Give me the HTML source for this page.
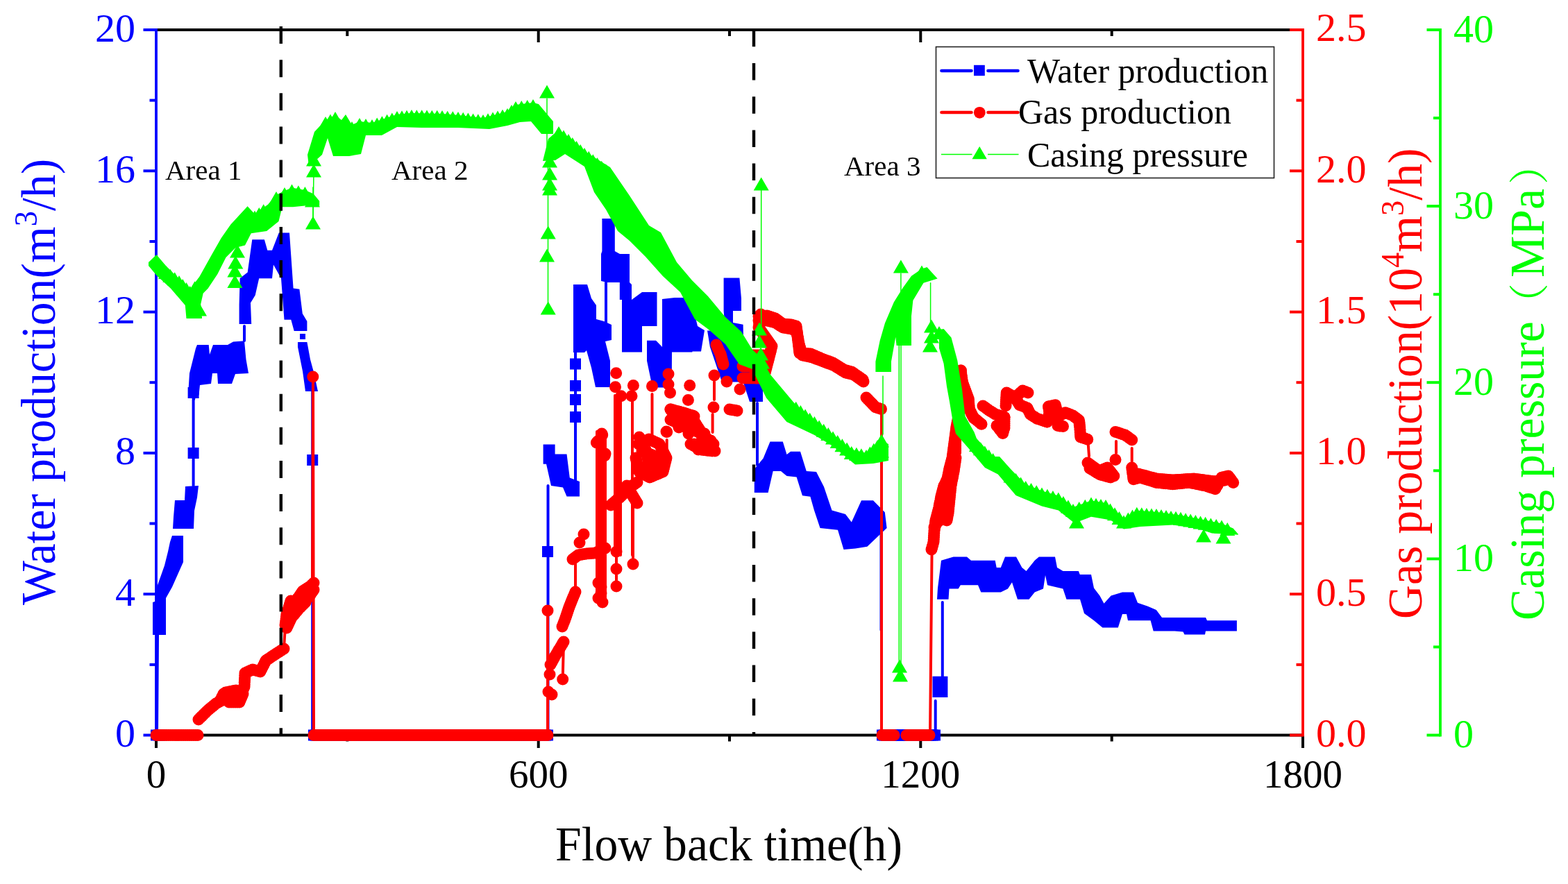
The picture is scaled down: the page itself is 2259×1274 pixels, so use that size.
<!DOCTYPE html><html><head><meta charset="utf-8"><title>Flow back chart</title><style>html,body{margin:0;padding:0;background:#fff;}svg{display:block;}</style></head><body>
<svg width="2259" height="1274" viewBox="0 0 2259 1274">
<rect width="2259" height="1274" fill="#fff"/>
<line x1="225.0" y1="43.0" x2="1877.0" y2="43.0" stroke="#000" stroke-width="4"/>
<line x1="225.0" y1="1059.5" x2="1877.0" y2="1059.5" stroke="#000" stroke-width="4"/>
<line x1="225.0" y1="1059.5" x2="225.0" y2="1078.0" stroke="#000" stroke-width="4"/>
<line x1="500.3" y1="1059.5" x2="500.3" y2="1068.5" stroke="#000" stroke-width="4"/>
<line x1="500.3" y1="43.0" x2="500.3" y2="52.0" stroke="#000" stroke-width="4"/>
<line x1="775.7" y1="1059.5" x2="775.7" y2="1078.0" stroke="#000" stroke-width="4"/>
<line x1="775.7" y1="43.0" x2="775.7" y2="61.0" stroke="#000" stroke-width="4"/>
<line x1="1051.0" y1="1059.5" x2="1051.0" y2="1068.5" stroke="#000" stroke-width="4"/>
<line x1="1051.0" y1="43.0" x2="1051.0" y2="52.0" stroke="#000" stroke-width="4"/>
<line x1="1326.3" y1="1059.5" x2="1326.3" y2="1078.0" stroke="#000" stroke-width="4"/>
<line x1="1326.3" y1="43.0" x2="1326.3" y2="61.0" stroke="#000" stroke-width="4"/>
<line x1="1601.7" y1="1059.5" x2="1601.7" y2="1068.5" stroke="#000" stroke-width="4"/>
<line x1="1601.7" y1="43.0" x2="1601.7" y2="52.0" stroke="#000" stroke-width="4"/>
<line x1="1877.0" y1="1059.5" x2="1877.0" y2="1078.0" stroke="#000" stroke-width="4"/>
<line x1="225.0" y1="41.0" x2="225.0" y2="1061.5" stroke="#0000ff" stroke-width="3.8"/>
<line x1="206.5" y1="1059.5" x2="225.0" y2="1059.5" stroke="#0000ff" stroke-width="4"/>
<line x1="215.5" y1="957.9" x2="225.0" y2="957.9" stroke="#0000ff" stroke-width="4"/>
<line x1="206.5" y1="856.2" x2="225.0" y2="856.2" stroke="#0000ff" stroke-width="4"/>
<line x1="215.5" y1="754.5" x2="225.0" y2="754.5" stroke="#0000ff" stroke-width="4"/>
<line x1="206.5" y1="652.9" x2="225.0" y2="652.9" stroke="#0000ff" stroke-width="4"/>
<line x1="215.5" y1="551.2" x2="225.0" y2="551.2" stroke="#0000ff" stroke-width="4"/>
<line x1="206.5" y1="449.6" x2="225.0" y2="449.6" stroke="#0000ff" stroke-width="4"/>
<line x1="215.5" y1="348.0" x2="225.0" y2="348.0" stroke="#0000ff" stroke-width="4"/>
<line x1="206.5" y1="246.3" x2="225.0" y2="246.3" stroke="#0000ff" stroke-width="4"/>
<line x1="215.5" y1="144.6" x2="225.0" y2="144.6" stroke="#0000ff" stroke-width="4"/>
<line x1="206.5" y1="43.0" x2="225.0" y2="43.0" stroke="#0000ff" stroke-width="4"/>
<line x1="1877.0" y1="41.0" x2="1877.0" y2="1061.5" stroke="#ff0000" stroke-width="3.8"/>
<line x1="1858.0" y1="1059.5" x2="1877.0" y2="1059.5" stroke="#ff0000" stroke-width="4"/>
<line x1="1867.5" y1="957.9" x2="1877.0" y2="957.9" stroke="#ff0000" stroke-width="4"/>
<line x1="1858.0" y1="856.2" x2="1877.0" y2="856.2" stroke="#ff0000" stroke-width="4"/>
<line x1="1867.5" y1="754.5" x2="1877.0" y2="754.5" stroke="#ff0000" stroke-width="4"/>
<line x1="1858.0" y1="652.9" x2="1877.0" y2="652.9" stroke="#ff0000" stroke-width="4"/>
<line x1="1867.5" y1="551.2" x2="1877.0" y2="551.2" stroke="#ff0000" stroke-width="4"/>
<line x1="1858.0" y1="449.6" x2="1877.0" y2="449.6" stroke="#ff0000" stroke-width="4"/>
<line x1="1867.5" y1="348.0" x2="1877.0" y2="348.0" stroke="#ff0000" stroke-width="4"/>
<line x1="1858.0" y1="246.3" x2="1877.0" y2="246.3" stroke="#ff0000" stroke-width="4"/>
<line x1="1867.5" y1="144.6" x2="1877.0" y2="144.6" stroke="#ff0000" stroke-width="4"/>
<line x1="1858.0" y1="43.0" x2="1877.0" y2="43.0" stroke="#ff0000" stroke-width="4"/>
<line x1="2075.0" y1="41.0" x2="2075.0" y2="1061.5" stroke="#00ff00" stroke-width="3.8"/>
<line x1="2055.5" y1="1059.5" x2="2075.0" y2="1059.5" stroke="#00ff00" stroke-width="4"/>
<line x1="2065.0" y1="932.4" x2="2075.0" y2="932.4" stroke="#00ff00" stroke-width="4"/>
<line x1="2055.5" y1="805.4" x2="2075.0" y2="805.4" stroke="#00ff00" stroke-width="4"/>
<line x1="2065.0" y1="678.3" x2="2075.0" y2="678.3" stroke="#00ff00" stroke-width="4"/>
<line x1="2055.5" y1="551.2" x2="2075.0" y2="551.2" stroke="#00ff00" stroke-width="4"/>
<line x1="2065.0" y1="424.2" x2="2075.0" y2="424.2" stroke="#00ff00" stroke-width="4"/>
<line x1="2055.5" y1="297.1" x2="2075.0" y2="297.1" stroke="#00ff00" stroke-width="4"/>
<line x1="2065.0" y1="170.1" x2="2075.0" y2="170.1" stroke="#00ff00" stroke-width="4"/>
<line x1="2055.5" y1="43.0" x2="2075.0" y2="43.0" stroke="#00ff00" stroke-width="4"/>
<rect x="217.0" y="1051.5" width="16" height="16" fill="#0000ff"/>
<rect x="221.0" y="1051.5" width="16" height="16" fill="#0000ff"/>
<rect x="225.0" y="1051.5" width="16" height="16" fill="#0000ff"/>
<rect x="444.0" y="1051.5" width="16" height="16" fill="#0000ff"/>
<rect x="447.0" y="1051.5" width="16" height="16" fill="#0000ff"/>
<rect x="450.0" y="1051.5" width="16" height="16" fill="#0000ff"/>
<rect x="453.0" y="1051.5" width="16" height="16" fill="#0000ff"/>
<rect x="456.0" y="1051.5" width="16" height="16" fill="#0000ff"/>
<rect x="459.0" y="1051.5" width="16" height="16" fill="#0000ff"/>
<rect x="462.1" y="1051.5" width="16" height="16" fill="#0000ff"/>
<rect x="465.1" y="1051.5" width="16" height="16" fill="#0000ff"/>
<rect x="468.1" y="1051.5" width="16" height="16" fill="#0000ff"/>
<rect x="471.1" y="1051.5" width="16" height="16" fill="#0000ff"/>
<rect x="474.1" y="1051.5" width="16" height="16" fill="#0000ff"/>
<rect x="477.1" y="1051.5" width="16" height="16" fill="#0000ff"/>
<rect x="480.1" y="1051.5" width="16" height="16" fill="#0000ff"/>
<rect x="483.1" y="1051.5" width="16" height="16" fill="#0000ff"/>
<rect x="486.1" y="1051.5" width="16" height="16" fill="#0000ff"/>
<rect x="489.1" y="1051.5" width="16" height="16" fill="#0000ff"/>
<rect x="492.1" y="1051.5" width="16" height="16" fill="#0000ff"/>
<rect x="495.2" y="1051.5" width="16" height="16" fill="#0000ff"/>
<rect x="498.2" y="1051.5" width="16" height="16" fill="#0000ff"/>
<rect x="501.2" y="1051.5" width="16" height="16" fill="#0000ff"/>
<rect x="504.2" y="1051.5" width="16" height="16" fill="#0000ff"/>
<rect x="507.2" y="1051.5" width="16" height="16" fill="#0000ff"/>
<rect x="510.2" y="1051.5" width="16" height="16" fill="#0000ff"/>
<rect x="513.2" y="1051.5" width="16" height="16" fill="#0000ff"/>
<rect x="516.2" y="1051.5" width="16" height="16" fill="#0000ff"/>
<rect x="519.2" y="1051.5" width="16" height="16" fill="#0000ff"/>
<rect x="522.2" y="1051.5" width="16" height="16" fill="#0000ff"/>
<rect x="525.2" y="1051.5" width="16" height="16" fill="#0000ff"/>
<rect x="528.2" y="1051.5" width="16" height="16" fill="#0000ff"/>
<rect x="531.3" y="1051.5" width="16" height="16" fill="#0000ff"/>
<rect x="534.3" y="1051.5" width="16" height="16" fill="#0000ff"/>
<rect x="537.3" y="1051.5" width="16" height="16" fill="#0000ff"/>
<rect x="540.3" y="1051.5" width="16" height="16" fill="#0000ff"/>
<rect x="543.3" y="1051.5" width="16" height="16" fill="#0000ff"/>
<rect x="546.3" y="1051.5" width="16" height="16" fill="#0000ff"/>
<rect x="549.3" y="1051.5" width="16" height="16" fill="#0000ff"/>
<rect x="552.3" y="1051.5" width="16" height="16" fill="#0000ff"/>
<rect x="555.3" y="1051.5" width="16" height="16" fill="#0000ff"/>
<rect x="558.3" y="1051.5" width="16" height="16" fill="#0000ff"/>
<rect x="561.3" y="1051.5" width="16" height="16" fill="#0000ff"/>
<rect x="564.4" y="1051.5" width="16" height="16" fill="#0000ff"/>
<rect x="567.4" y="1051.5" width="16" height="16" fill="#0000ff"/>
<rect x="570.4" y="1051.5" width="16" height="16" fill="#0000ff"/>
<rect x="573.4" y="1051.5" width="16" height="16" fill="#0000ff"/>
<rect x="576.4" y="1051.5" width="16" height="16" fill="#0000ff"/>
<rect x="579.4" y="1051.5" width="16" height="16" fill="#0000ff"/>
<rect x="582.4" y="1051.5" width="16" height="16" fill="#0000ff"/>
<rect x="585.4" y="1051.5" width="16" height="16" fill="#0000ff"/>
<rect x="588.4" y="1051.5" width="16" height="16" fill="#0000ff"/>
<rect x="591.4" y="1051.5" width="16" height="16" fill="#0000ff"/>
<rect x="594.4" y="1051.5" width="16" height="16" fill="#0000ff"/>
<rect x="597.5" y="1051.5" width="16" height="16" fill="#0000ff"/>
<rect x="600.5" y="1051.5" width="16" height="16" fill="#0000ff"/>
<rect x="603.5" y="1051.5" width="16" height="16" fill="#0000ff"/>
<rect x="606.5" y="1051.5" width="16" height="16" fill="#0000ff"/>
<rect x="609.5" y="1051.5" width="16" height="16" fill="#0000ff"/>
<rect x="612.5" y="1051.5" width="16" height="16" fill="#0000ff"/>
<rect x="615.5" y="1051.5" width="16" height="16" fill="#0000ff"/>
<rect x="618.5" y="1051.5" width="16" height="16" fill="#0000ff"/>
<rect x="621.5" y="1051.5" width="16" height="16" fill="#0000ff"/>
<rect x="624.5" y="1051.5" width="16" height="16" fill="#0000ff"/>
<rect x="627.5" y="1051.5" width="16" height="16" fill="#0000ff"/>
<rect x="630.6" y="1051.5" width="16" height="16" fill="#0000ff"/>
<rect x="633.6" y="1051.5" width="16" height="16" fill="#0000ff"/>
<rect x="636.6" y="1051.5" width="16" height="16" fill="#0000ff"/>
<rect x="639.6" y="1051.5" width="16" height="16" fill="#0000ff"/>
<rect x="642.6" y="1051.5" width="16" height="16" fill="#0000ff"/>
<rect x="645.6" y="1051.5" width="16" height="16" fill="#0000ff"/>
<rect x="648.6" y="1051.5" width="16" height="16" fill="#0000ff"/>
<rect x="651.6" y="1051.5" width="16" height="16" fill="#0000ff"/>
<rect x="654.6" y="1051.5" width="16" height="16" fill="#0000ff"/>
<rect x="657.6" y="1051.5" width="16" height="16" fill="#0000ff"/>
<rect x="660.6" y="1051.5" width="16" height="16" fill="#0000ff"/>
<rect x="663.7" y="1051.5" width="16" height="16" fill="#0000ff"/>
<rect x="666.7" y="1051.5" width="16" height="16" fill="#0000ff"/>
<rect x="669.7" y="1051.5" width="16" height="16" fill="#0000ff"/>
<rect x="672.7" y="1051.5" width="16" height="16" fill="#0000ff"/>
<rect x="675.7" y="1051.5" width="16" height="16" fill="#0000ff"/>
<rect x="678.7" y="1051.5" width="16" height="16" fill="#0000ff"/>
<rect x="681.7" y="1051.5" width="16" height="16" fill="#0000ff"/>
<rect x="684.7" y="1051.5" width="16" height="16" fill="#0000ff"/>
<rect x="687.7" y="1051.5" width="16" height="16" fill="#0000ff"/>
<rect x="690.7" y="1051.5" width="16" height="16" fill="#0000ff"/>
<rect x="693.7" y="1051.5" width="16" height="16" fill="#0000ff"/>
<rect x="696.8" y="1051.5" width="16" height="16" fill="#0000ff"/>
<rect x="699.8" y="1051.5" width="16" height="16" fill="#0000ff"/>
<rect x="702.8" y="1051.5" width="16" height="16" fill="#0000ff"/>
<rect x="705.8" y="1051.5" width="16" height="16" fill="#0000ff"/>
<rect x="708.8" y="1051.5" width="16" height="16" fill="#0000ff"/>
<rect x="711.8" y="1051.5" width="16" height="16" fill="#0000ff"/>
<rect x="714.8" y="1051.5" width="16" height="16" fill="#0000ff"/>
<rect x="717.8" y="1051.5" width="16" height="16" fill="#0000ff"/>
<rect x="720.8" y="1051.5" width="16" height="16" fill="#0000ff"/>
<rect x="723.8" y="1051.5" width="16" height="16" fill="#0000ff"/>
<rect x="726.8" y="1051.5" width="16" height="16" fill="#0000ff"/>
<rect x="729.8" y="1051.5" width="16" height="16" fill="#0000ff"/>
<rect x="732.9" y="1051.5" width="16" height="16" fill="#0000ff"/>
<rect x="735.9" y="1051.5" width="16" height="16" fill="#0000ff"/>
<rect x="738.9" y="1051.5" width="16" height="16" fill="#0000ff"/>
<rect x="741.9" y="1051.5" width="16" height="16" fill="#0000ff"/>
<rect x="744.9" y="1051.5" width="16" height="16" fill="#0000ff"/>
<rect x="747.9" y="1051.5" width="16" height="16" fill="#0000ff"/>
<rect x="750.9" y="1051.5" width="16" height="16" fill="#0000ff"/>
<rect x="753.9" y="1051.5" width="16" height="16" fill="#0000ff"/>
<rect x="756.9" y="1051.5" width="16" height="16" fill="#0000ff"/>
<rect x="759.9" y="1051.5" width="16" height="16" fill="#0000ff"/>
<rect x="762.9" y="1051.5" width="16" height="16" fill="#0000ff"/>
<rect x="766.0" y="1051.5" width="16" height="16" fill="#0000ff"/>
<rect x="769.0" y="1051.5" width="16" height="16" fill="#0000ff"/>
<rect x="772.0" y="1051.5" width="16" height="16" fill="#0000ff"/>
<rect x="775.0" y="1051.5" width="16" height="16" fill="#0000ff"/>
<rect x="778.0" y="1051.5" width="16" height="16" fill="#0000ff"/>
<rect x="781.0" y="1051.5" width="16" height="16" fill="#0000ff"/>
<rect x="1263.0" y="1051.5" width="16" height="16" fill="#0000ff"/>
<rect x="1266.0" y="1051.5" width="16" height="16" fill="#0000ff"/>
<rect x="1269.1" y="1051.5" width="16" height="16" fill="#0000ff"/>
<rect x="1272.1" y="1051.5" width="16" height="16" fill="#0000ff"/>
<rect x="1275.2" y="1051.5" width="16" height="16" fill="#0000ff"/>
<rect x="1278.2" y="1051.5" width="16" height="16" fill="#0000ff"/>
<rect x="1281.2" y="1051.5" width="16" height="16" fill="#0000ff"/>
<rect x="1284.3" y="1051.5" width="16" height="16" fill="#0000ff"/>
<rect x="1287.3" y="1051.5" width="16" height="16" fill="#0000ff"/>
<rect x="1290.4" y="1051.5" width="16" height="16" fill="#0000ff"/>
<rect x="1293.4" y="1051.5" width="16" height="16" fill="#0000ff"/>
<rect x="1296.4" y="1051.5" width="16" height="16" fill="#0000ff"/>
<rect x="1299.5" y="1051.5" width="16" height="16" fill="#0000ff"/>
<rect x="1302.5" y="1051.5" width="16" height="16" fill="#0000ff"/>
<rect x="1305.6" y="1051.5" width="16" height="16" fill="#0000ff"/>
<rect x="1308.6" y="1051.5" width="16" height="16" fill="#0000ff"/>
<rect x="1311.6" y="1051.5" width="16" height="16" fill="#0000ff"/>
<rect x="1314.7" y="1051.5" width="16" height="16" fill="#0000ff"/>
<rect x="1317.7" y="1051.5" width="16" height="16" fill="#0000ff"/>
<rect x="1320.8" y="1051.5" width="16" height="16" fill="#0000ff"/>
<rect x="1323.8" y="1051.5" width="16" height="16" fill="#0000ff"/>
<rect x="1326.8" y="1051.5" width="16" height="16" fill="#0000ff"/>
<rect x="1329.9" y="1051.5" width="16" height="16" fill="#0000ff"/>
<rect x="1332.9" y="1051.5" width="16" height="16" fill="#0000ff"/>
<rect x="1336.0" y="1051.5" width="16" height="16" fill="#0000ff"/>
<rect x="1339.0" y="1051.5" width="16" height="16" fill="#0000ff"/>
<polyline points="226.0,1059.0 227.0,915.0" fill="none" stroke="#0000ff" stroke-width="4" stroke-linejoin="round" stroke-linecap="round"/>
<polygon points="220.0,868.0 226.0,866.0 226.0,846.0 231.0,832.0 237.0,815.0 242.0,795.0 245.0,781.0 248.0,772.0 264.0,772.0 264.0,810.0 256.0,828.0 248.0,846.0 239.0,862.0 239.0,915.0 220.0,915.0" fill="#0000ff" />
<polygon points="249.0,762.0 250.0,745.0 252.0,721.0 266.0,721.0 267.0,701.0 286.0,700.0 284.0,717.0 280.0,736.0 279.0,762.0" fill="#0000ff" />
<polyline points="278.6,700.0 278.6,560.0" fill="none" stroke="#0000ff" stroke-width="4" stroke-linejoin="round" stroke-linecap="round"/>
<rect x="270.6" y="645.0" width="16" height="16" fill="#0000ff"/>
<rect x="270.6" y="558.0" width="16" height="16" fill="#0000ff"/>
<polyline points="279.3,575.0 279.3,560.0" fill="none" stroke="#0000ff" stroke-width="4" stroke-linejoin="round" stroke-linecap="round"/>
<polygon points="271.0,569.5 273.0,538.0 282.0,502.0 284.0,497.0 300.7,497.0 302.0,511.0 307.0,497.0 328.0,497.0 336.0,492.5 350.0,491.4 352.0,472.0 352.0,491.0 354.5,518.0 358.0,538.0 339.0,539.0 334.0,553.0 314.0,553.0 313.0,538.0 306.0,538.0 304.0,553.0 288.0,555.0 286.5,569.5" fill="#0000ff" />
<polyline points="352.0,491.0 352.0,470.0" fill="none" stroke="#0000ff" stroke-width="4" stroke-linejoin="round" stroke-linecap="round"/>
<polygon points="344.6,467.0 344.6,439.0 345.7,401.0 356.7,392.5 363.3,345.3 380.9,345.3 385.3,360.7 392.0,360.7 401.8,335.4 417.0,335.4 422.6,415.6 431.4,416.7 435.8,452.0 442.4,463.0 442.4,477.0 423.7,477.0 419.3,460.7 409.5,460.7 405.0,401.3 394.0,381.5 392.0,401.3 373.2,401.3 367.7,425.5 361.0,436.5 362.2,467.0" fill="#0000ff" />
<rect x="432.0" y="481.0" width="8" height="8" fill="#0000ff"/>
<polygon points="429.0,493.0 442.4,493.0 447.0,518.0 452.3,537.6 458.0,564.0 440.0,564.0 436.0,535.0 429.0,500.0" fill="#0000ff" />
<polyline points="450.2,564.0 450.2,1059.0" fill="none" stroke="#0000ff" stroke-width="4" stroke-linejoin="round" stroke-linecap="round"/>
<rect x="442.2" y="655.0" width="16" height="16" fill="#0000ff"/>
<polyline points="789.5,1059.0 789.5,700.0" fill="none" stroke="#0000ff" stroke-width="4" stroke-linejoin="round" stroke-linecap="round"/>
<rect x="781.0" y="787.0" width="16" height="16" fill="#0000ff"/>
<polygon points="782.6,640.5 799.6,640.5 799.6,654.6 816.5,654.6 820.8,688.5 835.0,694.0 835.0,715.4 816.5,715.4 811.0,702.6 794.0,700.0 787.0,668.7 782.6,668.7" fill="#0000ff" />
<polyline points="829.0,700.0 829.0,505.0" fill="none" stroke="#0000ff" stroke-width="4" stroke-linejoin="round" stroke-linecap="round"/>
<rect x="821.0" y="593.0" width="16" height="16" fill="#0000ff"/>
<rect x="821.0" y="568.0" width="16" height="16" fill="#0000ff"/>
<rect x="821.0" y="548.0" width="16" height="16" fill="#0000ff"/>
<rect x="821.0" y="516.5" width="16" height="16" fill="#0000ff"/>
<polygon points="826.0,410.0 846.0,410.0 852.0,430.0 859.0,440.0 859.0,460.0 870.0,463.0 881.0,468.0 881.0,490.0 872.0,492.0 879.0,520.0 879.0,558.0 858.0,558.0 852.0,530.0 845.0,505.0 842.0,508.0 826.0,508.0" fill="#0000ff" />
<polygon points="867.4,315.0 885.8,315.0 885.8,362.0 893.0,366.0 907.0,366.0 907.0,407.0 910.0,410.0 910.0,432.0 925.0,421.0 946.5,421.0 946.5,470.0 925.0,470.0 925.0,507.6 896.0,507.6 896.0,432.0 892.8,432.0 892.8,407.0 875.0,407.0 866.0,405.0 866.0,366.0 867.4,362.0" fill="#0000ff" />
<polyline points="873.0,400.0 873.0,480.0" fill="none" stroke="#0000ff" stroke-width="4" stroke-linejoin="round" stroke-linecap="round"/>
<polygon points="932.0,490.7 945.0,490.7 954.0,500.0 954.0,431.0 972.0,429.0 1000.0,429.0 1000.0,470.0 997.4,507.6 968.0,507.6 967.7,558.5 940.0,558.5 932.0,520.0" fill="#0000ff" />
<polygon points="1042.6,400.4 1065.4,400.4 1068.0,430.0 1068.0,448.0 1056.0,448.0 1056.0,465.0 1070.6,467.7 1072.0,535.0 1099.0,535.0 1099.0,579.0 1080.0,579.0 1070.6,550.5 1040.0,550.5 1022.9,500.0 1019.0,476.5 1045.0,476.5 1042.6,448.0" fill="#0000ff" />
<polygon points="980.0,431.4 995.5,431.4 1005.0,470.0 1015.0,476.0 1010.0,506.5 980.0,506.5" fill="#0000ff" />
<polyline points="1091.0,581.0 1091.0,670.0" fill="none" stroke="#0000ff" stroke-width="4" stroke-linejoin="round" stroke-linecap="round"/>
<polygon points="1086.8,676.0 1099.6,660.6 1109.5,636.5 1127.8,636.5 1133.5,655.0 1139.0,650.7 1153.0,650.7 1161.8,679.0 1176.0,680.0 1187.0,701.5 1198.5,735.5 1218.0,741.0 1226.8,752.4 1241.0,721.3 1258.0,721.3 1274.8,738.3 1277.6,761.0 1249.4,787.7 1232.4,790.6 1215.5,792.0 1207.0,763.7 1181.5,761.0 1173.0,735.5 1167.4,715.7 1156.0,714.3 1147.6,687.4 1133.5,686.0 1125.0,679.0 1113.7,679.0 1106.6,710.0 1086.8,710.0" fill="#0000ff" />
<polyline points="1269.0,761.0 1269.0,908.0" fill="none" stroke="#0000ff" stroke-width="3" stroke-linejoin="round" stroke-linecap="round"/>
<polyline points="1347.7,1059.0 1347.7,1010.0" fill="none" stroke="#0000ff" stroke-width="4" stroke-linejoin="round" stroke-linecap="round"/>
<polygon points="1343.5,974.7 1365.4,974.7 1365.4,1005.0 1343.5,1005.0" fill="#0000ff" />
<polyline points="1357.8,975.0 1357.8,868.0" fill="none" stroke="#0000ff" stroke-width="4" stroke-linejoin="round" stroke-linecap="round"/>
<polygon points="1351.0,847.4 1356.0,807.7 1373.6,802.6 1393.0,802.6 1399.0,807.7 1433.7,807.7 1435.7,818.0 1441.8,818.0 1448.0,802.6 1464.0,802.6 1472.4,818.0 1478.5,823.0 1490.7,807.7 1496.8,802.6 1520.0,802.6 1523.0,818.0 1531.4,823.0 1553.8,823.0 1555.8,828.0 1572.0,828.0 1576.0,847.4 1584.4,858.6 1590.5,869.8 1600.6,858.6 1617.0,853.5 1633.0,853.5 1639.0,868.8 1653.6,873.8 1665.8,879.0 1674.0,890.0 1737.0,890.0 1739.0,894.2 1781.9,894.2 1781.9,909.5 1737.0,909.5 1736.0,914.6 1706.5,914.6 1704.5,910.5 1692.3,909.5 1661.7,909.5 1657.6,894.2 1625.0,894.2 1623.0,885.0 1617.0,885.0 1610.8,904.4 1588.4,904.4 1576.0,894.2 1562.0,884.0 1556.0,863.7 1536.5,863.7 1531.4,848.4 1509.0,843.3 1506.0,829.0 1503.0,848.4 1490.7,853.5 1482.5,863.7 1466.0,863.7 1458.0,839.2 1452.0,848.4 1441.8,853.5 1413.3,853.5 1409.0,843.3 1383.8,843.3 1380.7,848.4 1367.5,848.4 1366.5,863.7 1350.0,863.7" fill="#0000ff" />
<circle cx="225.0" cy="1059.5" r="8.5" fill="#ff0000"/>
<circle cx="228.0" cy="1059.5" r="8.5" fill="#ff0000"/>
<circle cx="231.0" cy="1059.5" r="8.5" fill="#ff0000"/>
<circle cx="234.0" cy="1059.5" r="8.5" fill="#ff0000"/>
<circle cx="237.0" cy="1059.5" r="8.5" fill="#ff0000"/>
<circle cx="240.0" cy="1059.5" r="8.5" fill="#ff0000"/>
<circle cx="243.0" cy="1059.5" r="8.5" fill="#ff0000"/>
<circle cx="246.0" cy="1059.5" r="8.5" fill="#ff0000"/>
<circle cx="249.0" cy="1059.5" r="8.5" fill="#ff0000"/>
<circle cx="252.0" cy="1059.5" r="8.5" fill="#ff0000"/>
<circle cx="255.0" cy="1059.5" r="8.5" fill="#ff0000"/>
<circle cx="258.0" cy="1059.5" r="8.5" fill="#ff0000"/>
<circle cx="261.0" cy="1059.5" r="8.5" fill="#ff0000"/>
<circle cx="264.0" cy="1059.5" r="8.5" fill="#ff0000"/>
<circle cx="267.0" cy="1059.5" r="8.5" fill="#ff0000"/>
<circle cx="270.0" cy="1059.5" r="8.5" fill="#ff0000"/>
<circle cx="273.0" cy="1059.5" r="8.5" fill="#ff0000"/>
<circle cx="276.0" cy="1059.5" r="8.5" fill="#ff0000"/>
<circle cx="279.0" cy="1059.5" r="8.5" fill="#ff0000"/>
<circle cx="282.0" cy="1059.5" r="8.5" fill="#ff0000"/>
<circle cx="285.0" cy="1059.5" r="8.5" fill="#ff0000"/>
<circle cx="286.0" cy="1037.0" r="8.5" fill="#ff0000"/>
<circle cx="288.4" cy="1034.6" r="8.5" fill="#ff0000"/>
<circle cx="290.8" cy="1032.2" r="8.5" fill="#ff0000"/>
<circle cx="293.2" cy="1029.8" r="8.5" fill="#ff0000"/>
<circle cx="295.6" cy="1027.4" r="8.5" fill="#ff0000"/>
<circle cx="298.0" cy="1025.0" r="8.5" fill="#ff0000"/>
<circle cx="300.6" cy="1022.8" r="8.5" fill="#ff0000"/>
<circle cx="303.2" cy="1020.6" r="8.5" fill="#ff0000"/>
<circle cx="305.8" cy="1018.4" r="8.5" fill="#ff0000"/>
<circle cx="308.4" cy="1016.2" r="8.5" fill="#ff0000"/>
<circle cx="311.0" cy="1014.0" r="8.5" fill="#ff0000"/>
<circle cx="314.0" cy="1012.4" r="8.5" fill="#ff0000"/>
<circle cx="317.0" cy="1010.8" r="8.5" fill="#ff0000"/>
<circle cx="320.0" cy="1009.2" r="8.5" fill="#ff0000"/>
<circle cx="323.0" cy="1007.6" r="8.5" fill="#ff0000"/>
<circle cx="326.0" cy="1006.0" r="8.5" fill="#ff0000"/>
<circle cx="329.3" cy="1004.0" r="8.5" fill="#ff0000"/>
<circle cx="332.7" cy="1002.0" r="8.5" fill="#ff0000"/>
<circle cx="336.0" cy="1000.0" r="8.5" fill="#ff0000"/>
<circle cx="339.0" cy="1001.3" r="8.5" fill="#ff0000"/>
<circle cx="342.0" cy="1002.7" r="8.5" fill="#ff0000"/>
<circle cx="345.0" cy="1004.0" r="8.5" fill="#ff0000"/>
<circle cx="346.4" cy="1001.2" r="8.5" fill="#ff0000"/>
<circle cx="347.8" cy="998.4" r="8.5" fill="#ff0000"/>
<circle cx="349.2" cy="995.6" r="8.5" fill="#ff0000"/>
<circle cx="350.6" cy="992.8" r="8.5" fill="#ff0000"/>
<circle cx="352.0" cy="990.0" r="8.5" fill="#ff0000"/>
<circle cx="352.2" cy="986.7" r="8.5" fill="#ff0000"/>
<circle cx="352.3" cy="983.3" r="8.5" fill="#ff0000"/>
<circle cx="352.5" cy="980.0" r="8.5" fill="#ff0000"/>
<circle cx="352.7" cy="976.7" r="8.5" fill="#ff0000"/>
<circle cx="352.8" cy="973.3" r="8.5" fill="#ff0000"/>
<circle cx="353.0" cy="970.0" r="8.5" fill="#ff0000"/>
<circle cx="355.8" cy="968.8" r="8.5" fill="#ff0000"/>
<circle cx="358.5" cy="967.5" r="8.5" fill="#ff0000"/>
<circle cx="361.2" cy="966.2" r="8.5" fill="#ff0000"/>
<circle cx="364.0" cy="965.0" r="8.5" fill="#ff0000"/>
<circle cx="367.7" cy="966.0" r="8.5" fill="#ff0000"/>
<circle cx="371.3" cy="967.0" r="8.5" fill="#ff0000"/>
<circle cx="375.0" cy="968.0" r="8.5" fill="#ff0000"/>
<circle cx="376.6" cy="964.8" r="8.5" fill="#ff0000"/>
<circle cx="378.2" cy="961.6" r="8.5" fill="#ff0000"/>
<circle cx="379.8" cy="958.4" r="8.5" fill="#ff0000"/>
<circle cx="381.4" cy="955.2" r="8.5" fill="#ff0000"/>
<circle cx="383.0" cy="952.0" r="8.5" fill="#ff0000"/>
<circle cx="385.5" cy="950.3" r="8.5" fill="#ff0000"/>
<circle cx="388.0" cy="948.7" r="8.5" fill="#ff0000"/>
<circle cx="390.5" cy="947.0" r="8.5" fill="#ff0000"/>
<circle cx="393.0" cy="945.3" r="8.5" fill="#ff0000"/>
<circle cx="395.5" cy="943.7" r="8.5" fill="#ff0000"/>
<circle cx="398.0" cy="942.0" r="8.5" fill="#ff0000"/>
<circle cx="400.8" cy="940.2" r="8.5" fill="#ff0000"/>
<circle cx="403.5" cy="938.5" r="8.5" fill="#ff0000"/>
<circle cx="406.2" cy="936.8" r="8.5" fill="#ff0000"/>
<circle cx="409.0" cy="935.0" r="8.5" fill="#ff0000"/>
<circle cx="325.0" cy="998.0" r="8.5" fill="#ff0000"/>
<circle cx="328.0" cy="997.4" r="8.5" fill="#ff0000"/>
<circle cx="331.0" cy="996.8" r="8.5" fill="#ff0000"/>
<circle cx="334.0" cy="996.2" r="8.5" fill="#ff0000"/>
<circle cx="337.0" cy="995.6" r="8.5" fill="#ff0000"/>
<circle cx="340.0" cy="995.0" r="8.5" fill="#ff0000"/>
<circle cx="343.3" cy="996.7" r="8.5" fill="#ff0000"/>
<circle cx="346.7" cy="998.3" r="8.5" fill="#ff0000"/>
<circle cx="350.0" cy="1000.0" r="8.5" fill="#ff0000"/>
<circle cx="348.8" cy="1003.0" r="8.5" fill="#ff0000"/>
<circle cx="347.5" cy="1006.0" r="8.5" fill="#ff0000"/>
<circle cx="346.2" cy="1009.0" r="8.5" fill="#ff0000"/>
<circle cx="345.0" cy="1012.0" r="8.5" fill="#ff0000"/>
<circle cx="342.0" cy="1012.0" r="8.5" fill="#ff0000"/>
<circle cx="339.0" cy="1012.0" r="8.5" fill="#ff0000"/>
<circle cx="336.0" cy="1012.0" r="8.5" fill="#ff0000"/>
<circle cx="333.0" cy="1012.0" r="8.5" fill="#ff0000"/>
<circle cx="330.0" cy="1012.0" r="8.5" fill="#ff0000"/>
<circle cx="322.0" cy="1000.0" r="8.5" fill="#ff0000"/>
<circle cx="320.0" cy="1004.0" r="8.5" fill="#ff0000"/>
<circle cx="318.0" cy="1008.0" r="8.5" fill="#ff0000"/>
<polyline points="409.0,935.0 411.0,901.0" fill="none" stroke="#ff0000" stroke-width="4" stroke-linejoin="round" stroke-linecap="round"/>
<circle cx="411.0" cy="901.0" r="8.5" fill="#ff0000"/>
<circle cx="411.4" cy="897.8" r="8.5" fill="#ff0000"/>
<circle cx="411.8" cy="894.6" r="8.5" fill="#ff0000"/>
<circle cx="412.2" cy="891.4" r="8.5" fill="#ff0000"/>
<circle cx="412.6" cy="888.2" r="8.5" fill="#ff0000"/>
<circle cx="413.0" cy="885.0" r="8.5" fill="#ff0000"/>
<circle cx="414.0" cy="881.8" r="8.5" fill="#ff0000"/>
<circle cx="415.0" cy="878.7" r="8.5" fill="#ff0000"/>
<circle cx="416.0" cy="875.5" r="8.5" fill="#ff0000"/>
<circle cx="417.0" cy="872.3" r="8.5" fill="#ff0000"/>
<circle cx="418.0" cy="869.2" r="8.5" fill="#ff0000"/>
<circle cx="419.0" cy="866.0" r="8.5" fill="#ff0000"/>
<circle cx="422.0" cy="867.3" r="8.5" fill="#ff0000"/>
<circle cx="425.0" cy="868.7" r="8.5" fill="#ff0000"/>
<circle cx="428.0" cy="870.0" r="8.5" fill="#ff0000"/>
<circle cx="429.0" cy="867.0" r="8.5" fill="#ff0000"/>
<circle cx="430.0" cy="864.0" r="8.5" fill="#ff0000"/>
<circle cx="431.0" cy="861.0" r="8.5" fill="#ff0000"/>
<circle cx="432.0" cy="858.0" r="8.5" fill="#ff0000"/>
<circle cx="434.0" cy="855.0" r="8.5" fill="#ff0000"/>
<circle cx="436.0" cy="852.0" r="8.5" fill="#ff0000"/>
<circle cx="438.8" cy="850.2" r="8.5" fill="#ff0000"/>
<circle cx="441.5" cy="848.5" r="8.5" fill="#ff0000"/>
<circle cx="444.2" cy="846.8" r="8.5" fill="#ff0000"/>
<circle cx="447.0" cy="845.0" r="8.5" fill="#ff0000"/>
<circle cx="449.5" cy="842.5" r="8.5" fill="#ff0000"/>
<circle cx="452.0" cy="840.0" r="8.5" fill="#ff0000"/>
<circle cx="415.0" cy="895.0" r="8.5" fill="#ff0000"/>
<circle cx="416.7" cy="892.5" r="8.5" fill="#ff0000"/>
<circle cx="418.3" cy="890.0" r="8.5" fill="#ff0000"/>
<circle cx="420.0" cy="887.5" r="8.5" fill="#ff0000"/>
<circle cx="421.7" cy="885.0" r="8.5" fill="#ff0000"/>
<circle cx="423.3" cy="882.5" r="8.5" fill="#ff0000"/>
<circle cx="425.0" cy="880.0" r="8.5" fill="#ff0000"/>
<circle cx="427.5" cy="877.5" r="8.5" fill="#ff0000"/>
<circle cx="430.0" cy="875.0" r="8.5" fill="#ff0000"/>
<circle cx="432.5" cy="872.5" r="8.5" fill="#ff0000"/>
<circle cx="435.0" cy="870.0" r="8.5" fill="#ff0000"/>
<circle cx="437.5" cy="867.5" r="8.5" fill="#ff0000"/>
<circle cx="440.0" cy="865.0" r="8.5" fill="#ff0000"/>
<circle cx="442.5" cy="862.5" r="8.5" fill="#ff0000"/>
<circle cx="445.0" cy="860.0" r="8.5" fill="#ff0000"/>
<circle cx="446.8" cy="857.5" r="8.5" fill="#ff0000"/>
<circle cx="448.5" cy="855.0" r="8.5" fill="#ff0000"/>
<circle cx="450.2" cy="852.5" r="8.5" fill="#ff0000"/>
<circle cx="452.0" cy="850.0" r="8.5" fill="#ff0000"/>
<circle cx="420.0" cy="872.0" r="8.5" fill="#ff0000"/>
<circle cx="422.2" cy="869.6" r="8.5" fill="#ff0000"/>
<circle cx="424.4" cy="867.1" r="8.5" fill="#ff0000"/>
<circle cx="426.7" cy="864.7" r="8.5" fill="#ff0000"/>
<circle cx="428.9" cy="862.2" r="8.5" fill="#ff0000"/>
<circle cx="431.1" cy="859.8" r="8.5" fill="#ff0000"/>
<circle cx="433.3" cy="857.3" r="8.5" fill="#ff0000"/>
<circle cx="435.6" cy="854.9" r="8.5" fill="#ff0000"/>
<circle cx="437.8" cy="852.4" r="8.5" fill="#ff0000"/>
<circle cx="440.0" cy="850.0" r="8.5" fill="#ff0000"/>
<circle cx="413.0" cy="905.0" r="8.5" fill="#ff0000"/>
<circle cx="414.4" cy="902.0" r="8.5" fill="#ff0000"/>
<circle cx="415.8" cy="899.0" r="8.5" fill="#ff0000"/>
<circle cx="417.2" cy="896.0" r="8.5" fill="#ff0000"/>
<circle cx="418.6" cy="893.0" r="8.5" fill="#ff0000"/>
<circle cx="420.0" cy="890.0" r="8.5" fill="#ff0000"/>
<circle cx="422.0" cy="887.6" r="8.5" fill="#ff0000"/>
<circle cx="424.0" cy="885.2" r="8.5" fill="#ff0000"/>
<circle cx="426.0" cy="882.8" r="8.5" fill="#ff0000"/>
<circle cx="428.0" cy="880.4" r="8.5" fill="#ff0000"/>
<circle cx="430.0" cy="878.0" r="8.5" fill="#ff0000"/>
<circle cx="432.5" cy="875.5" r="8.5" fill="#ff0000"/>
<circle cx="435.0" cy="873.0" r="8.5" fill="#ff0000"/>
<circle cx="437.5" cy="870.5" r="8.5" fill="#ff0000"/>
<circle cx="440.0" cy="868.0" r="8.5" fill="#ff0000"/>
<polyline points="450.0,845.0 451.0,543.0 452.0,1059.0" fill="none" stroke="#ff0000" stroke-width="4" stroke-linejoin="round" stroke-linecap="round"/>
<circle cx="450.8" cy="543.0" r="8.5" fill="#ff0000"/>
<circle cx="452.0" cy="1059.5" r="8.5" fill="#ff0000"/>
<circle cx="455.0" cy="1059.5" r="8.5" fill="#ff0000"/>
<circle cx="458.0" cy="1059.5" r="8.5" fill="#ff0000"/>
<circle cx="461.0" cy="1059.5" r="8.5" fill="#ff0000"/>
<circle cx="464.0" cy="1059.5" r="8.5" fill="#ff0000"/>
<circle cx="467.0" cy="1059.5" r="8.5" fill="#ff0000"/>
<circle cx="470.1" cy="1059.5" r="8.5" fill="#ff0000"/>
<circle cx="473.1" cy="1059.5" r="8.5" fill="#ff0000"/>
<circle cx="476.1" cy="1059.5" r="8.5" fill="#ff0000"/>
<circle cx="479.1" cy="1059.5" r="8.5" fill="#ff0000"/>
<circle cx="482.1" cy="1059.5" r="8.5" fill="#ff0000"/>
<circle cx="485.1" cy="1059.5" r="8.5" fill="#ff0000"/>
<circle cx="488.1" cy="1059.5" r="8.5" fill="#ff0000"/>
<circle cx="491.1" cy="1059.5" r="8.5" fill="#ff0000"/>
<circle cx="494.1" cy="1059.5" r="8.5" fill="#ff0000"/>
<circle cx="497.1" cy="1059.5" r="8.5" fill="#ff0000"/>
<circle cx="500.1" cy="1059.5" r="8.5" fill="#ff0000"/>
<circle cx="503.2" cy="1059.5" r="8.5" fill="#ff0000"/>
<circle cx="506.2" cy="1059.5" r="8.5" fill="#ff0000"/>
<circle cx="509.2" cy="1059.5" r="8.5" fill="#ff0000"/>
<circle cx="512.2" cy="1059.5" r="8.5" fill="#ff0000"/>
<circle cx="515.2" cy="1059.5" r="8.5" fill="#ff0000"/>
<circle cx="518.2" cy="1059.5" r="8.5" fill="#ff0000"/>
<circle cx="521.2" cy="1059.5" r="8.5" fill="#ff0000"/>
<circle cx="524.2" cy="1059.5" r="8.5" fill="#ff0000"/>
<circle cx="527.2" cy="1059.5" r="8.5" fill="#ff0000"/>
<circle cx="530.2" cy="1059.5" r="8.5" fill="#ff0000"/>
<circle cx="533.2" cy="1059.5" r="8.5" fill="#ff0000"/>
<circle cx="536.2" cy="1059.5" r="8.5" fill="#ff0000"/>
<circle cx="539.3" cy="1059.5" r="8.5" fill="#ff0000"/>
<circle cx="542.3" cy="1059.5" r="8.5" fill="#ff0000"/>
<circle cx="545.3" cy="1059.5" r="8.5" fill="#ff0000"/>
<circle cx="548.3" cy="1059.5" r="8.5" fill="#ff0000"/>
<circle cx="551.3" cy="1059.5" r="8.5" fill="#ff0000"/>
<circle cx="554.3" cy="1059.5" r="8.5" fill="#ff0000"/>
<circle cx="557.3" cy="1059.5" r="8.5" fill="#ff0000"/>
<circle cx="560.3" cy="1059.5" r="8.5" fill="#ff0000"/>
<circle cx="563.3" cy="1059.5" r="8.5" fill="#ff0000"/>
<circle cx="566.3" cy="1059.5" r="8.5" fill="#ff0000"/>
<circle cx="569.3" cy="1059.5" r="8.5" fill="#ff0000"/>
<circle cx="572.4" cy="1059.5" r="8.5" fill="#ff0000"/>
<circle cx="575.4" cy="1059.5" r="8.5" fill="#ff0000"/>
<circle cx="578.4" cy="1059.5" r="8.5" fill="#ff0000"/>
<circle cx="581.4" cy="1059.5" r="8.5" fill="#ff0000"/>
<circle cx="584.4" cy="1059.5" r="8.5" fill="#ff0000"/>
<circle cx="587.4" cy="1059.5" r="8.5" fill="#ff0000"/>
<circle cx="590.4" cy="1059.5" r="8.5" fill="#ff0000"/>
<circle cx="593.4" cy="1059.5" r="8.5" fill="#ff0000"/>
<circle cx="596.4" cy="1059.5" r="8.5" fill="#ff0000"/>
<circle cx="599.4" cy="1059.5" r="8.5" fill="#ff0000"/>
<circle cx="602.4" cy="1059.5" r="8.5" fill="#ff0000"/>
<circle cx="605.5" cy="1059.5" r="8.5" fill="#ff0000"/>
<circle cx="608.5" cy="1059.5" r="8.5" fill="#ff0000"/>
<circle cx="611.5" cy="1059.5" r="8.5" fill="#ff0000"/>
<circle cx="614.5" cy="1059.5" r="8.5" fill="#ff0000"/>
<circle cx="617.5" cy="1059.5" r="8.5" fill="#ff0000"/>
<circle cx="620.5" cy="1059.5" r="8.5" fill="#ff0000"/>
<circle cx="623.5" cy="1059.5" r="8.5" fill="#ff0000"/>
<circle cx="626.5" cy="1059.5" r="8.5" fill="#ff0000"/>
<circle cx="629.5" cy="1059.5" r="8.5" fill="#ff0000"/>
<circle cx="632.5" cy="1059.5" r="8.5" fill="#ff0000"/>
<circle cx="635.5" cy="1059.5" r="8.5" fill="#ff0000"/>
<circle cx="638.6" cy="1059.5" r="8.5" fill="#ff0000"/>
<circle cx="641.6" cy="1059.5" r="8.5" fill="#ff0000"/>
<circle cx="644.6" cy="1059.5" r="8.5" fill="#ff0000"/>
<circle cx="647.6" cy="1059.5" r="8.5" fill="#ff0000"/>
<circle cx="650.6" cy="1059.5" r="8.5" fill="#ff0000"/>
<circle cx="653.6" cy="1059.5" r="8.5" fill="#ff0000"/>
<circle cx="656.6" cy="1059.5" r="8.5" fill="#ff0000"/>
<circle cx="659.6" cy="1059.5" r="8.5" fill="#ff0000"/>
<circle cx="662.6" cy="1059.5" r="8.5" fill="#ff0000"/>
<circle cx="665.6" cy="1059.5" r="8.5" fill="#ff0000"/>
<circle cx="668.6" cy="1059.5" r="8.5" fill="#ff0000"/>
<circle cx="671.7" cy="1059.5" r="8.5" fill="#ff0000"/>
<circle cx="674.7" cy="1059.5" r="8.5" fill="#ff0000"/>
<circle cx="677.7" cy="1059.5" r="8.5" fill="#ff0000"/>
<circle cx="680.7" cy="1059.5" r="8.5" fill="#ff0000"/>
<circle cx="683.7" cy="1059.5" r="8.5" fill="#ff0000"/>
<circle cx="686.7" cy="1059.5" r="8.5" fill="#ff0000"/>
<circle cx="689.7" cy="1059.5" r="8.5" fill="#ff0000"/>
<circle cx="692.7" cy="1059.5" r="8.5" fill="#ff0000"/>
<circle cx="695.7" cy="1059.5" r="8.5" fill="#ff0000"/>
<circle cx="698.7" cy="1059.5" r="8.5" fill="#ff0000"/>
<circle cx="701.7" cy="1059.5" r="8.5" fill="#ff0000"/>
<circle cx="704.8" cy="1059.5" r="8.5" fill="#ff0000"/>
<circle cx="707.8" cy="1059.5" r="8.5" fill="#ff0000"/>
<circle cx="710.8" cy="1059.5" r="8.5" fill="#ff0000"/>
<circle cx="713.8" cy="1059.5" r="8.5" fill="#ff0000"/>
<circle cx="716.8" cy="1059.5" r="8.5" fill="#ff0000"/>
<circle cx="719.8" cy="1059.5" r="8.5" fill="#ff0000"/>
<circle cx="722.8" cy="1059.5" r="8.5" fill="#ff0000"/>
<circle cx="725.8" cy="1059.5" r="8.5" fill="#ff0000"/>
<circle cx="728.8" cy="1059.5" r="8.5" fill="#ff0000"/>
<circle cx="731.8" cy="1059.5" r="8.5" fill="#ff0000"/>
<circle cx="734.8" cy="1059.5" r="8.5" fill="#ff0000"/>
<circle cx="737.8" cy="1059.5" r="8.5" fill="#ff0000"/>
<circle cx="740.9" cy="1059.5" r="8.5" fill="#ff0000"/>
<circle cx="743.9" cy="1059.5" r="8.5" fill="#ff0000"/>
<circle cx="746.9" cy="1059.5" r="8.5" fill="#ff0000"/>
<circle cx="749.9" cy="1059.5" r="8.5" fill="#ff0000"/>
<circle cx="752.9" cy="1059.5" r="8.5" fill="#ff0000"/>
<circle cx="755.9" cy="1059.5" r="8.5" fill="#ff0000"/>
<circle cx="758.9" cy="1059.5" r="8.5" fill="#ff0000"/>
<circle cx="761.9" cy="1059.5" r="8.5" fill="#ff0000"/>
<circle cx="764.9" cy="1059.5" r="8.5" fill="#ff0000"/>
<circle cx="767.9" cy="1059.5" r="8.5" fill="#ff0000"/>
<circle cx="770.9" cy="1059.5" r="8.5" fill="#ff0000"/>
<circle cx="774.0" cy="1059.5" r="8.5" fill="#ff0000"/>
<circle cx="777.0" cy="1059.5" r="8.5" fill="#ff0000"/>
<circle cx="780.0" cy="1059.5" r="8.5" fill="#ff0000"/>
<circle cx="783.0" cy="1059.5" r="8.5" fill="#ff0000"/>
<circle cx="786.0" cy="1059.5" r="8.5" fill="#ff0000"/>
<circle cx="789.0" cy="1059.5" r="8.5" fill="#ff0000"/>
<polyline points="789.0,1059.0 789.0,880.0" fill="none" stroke="#ff0000" stroke-width="4" stroke-linejoin="round" stroke-linecap="round"/>
<circle cx="789.0" cy="880.0" r="8.5" fill="#ff0000"/>
<circle cx="790.0" cy="997.0" r="8.5" fill="#ff0000"/>
<circle cx="792.0" cy="972.0" r="8.5" fill="#ff0000"/>
<circle cx="795.0" cy="1001.0" r="8.5" fill="#ff0000"/>
<circle cx="810.7" cy="979.0" r="8.5" fill="#ff0000"/>
<polyline points="810.7,979.0 812.0,925.0" fill="none" stroke="#ff0000" stroke-width="4" stroke-linejoin="round" stroke-linecap="round"/>
<circle cx="793.0" cy="958.0" r="8.5" fill="#ff0000"/>
<circle cx="794.8" cy="954.8" r="8.5" fill="#ff0000"/>
<circle cx="796.5" cy="951.5" r="8.5" fill="#ff0000"/>
<circle cx="798.2" cy="948.2" r="8.5" fill="#ff0000"/>
<circle cx="800.0" cy="945.0" r="8.5" fill="#ff0000"/>
<circle cx="802.0" cy="941.7" r="8.5" fill="#ff0000"/>
<circle cx="804.0" cy="938.3" r="8.5" fill="#ff0000"/>
<circle cx="806.0" cy="935.0" r="8.5" fill="#ff0000"/>
<circle cx="808.0" cy="931.7" r="8.5" fill="#ff0000"/>
<circle cx="810.0" cy="928.3" r="8.5" fill="#ff0000"/>
<circle cx="812.0" cy="925.0" r="8.5" fill="#ff0000"/>
<circle cx="810.0" cy="903.0" r="8.5" fill="#ff0000"/>
<circle cx="811.2" cy="899.8" r="8.5" fill="#ff0000"/>
<circle cx="812.5" cy="896.5" r="8.5" fill="#ff0000"/>
<circle cx="813.8" cy="893.2" r="8.5" fill="#ff0000"/>
<circle cx="815.0" cy="890.0" r="8.5" fill="#ff0000"/>
<circle cx="816.0" cy="887.0" r="8.5" fill="#ff0000"/>
<circle cx="817.0" cy="884.0" r="8.5" fill="#ff0000"/>
<circle cx="818.0" cy="881.0" r="8.5" fill="#ff0000"/>
<circle cx="819.0" cy="878.0" r="8.5" fill="#ff0000"/>
<circle cx="820.0" cy="875.0" r="8.5" fill="#ff0000"/>
<circle cx="821.2" cy="872.0" r="8.5" fill="#ff0000"/>
<circle cx="822.4" cy="869.0" r="8.5" fill="#ff0000"/>
<circle cx="823.6" cy="866.0" r="8.5" fill="#ff0000"/>
<circle cx="824.8" cy="863.0" r="8.5" fill="#ff0000"/>
<circle cx="826.0" cy="860.0" r="8.5" fill="#ff0000"/>
<circle cx="827.5" cy="856.5" r="8.5" fill="#ff0000"/>
<circle cx="829.0" cy="853.0" r="8.5" fill="#ff0000"/>
<polyline points="829.0,849.0 829.0,813.0" fill="none" stroke="#ff0000" stroke-width="4" stroke-linejoin="round" stroke-linecap="round"/>
<circle cx="825.0" cy="806.0" r="8.5" fill="#ff0000"/>
<circle cx="827.7" cy="804.0" r="8.5" fill="#ff0000"/>
<circle cx="830.3" cy="802.0" r="8.5" fill="#ff0000"/>
<circle cx="833.0" cy="800.0" r="8.5" fill="#ff0000"/>
<circle cx="836.0" cy="799.5" r="8.5" fill="#ff0000"/>
<circle cx="839.0" cy="799.0" r="8.5" fill="#ff0000"/>
<circle cx="842.0" cy="798.5" r="8.5" fill="#ff0000"/>
<circle cx="845.0" cy="798.0" r="8.5" fill="#ff0000"/>
<circle cx="848.2" cy="797.8" r="8.5" fill="#ff0000"/>
<circle cx="851.5" cy="797.5" r="8.5" fill="#ff0000"/>
<circle cx="854.8" cy="797.2" r="8.5" fill="#ff0000"/>
<circle cx="858.0" cy="797.0" r="8.5" fill="#ff0000"/>
<circle cx="860.8" cy="795.6" r="8.5" fill="#ff0000"/>
<circle cx="863.6" cy="794.2" r="8.5" fill="#ff0000"/>
<circle cx="866.4" cy="792.8" r="8.5" fill="#ff0000"/>
<circle cx="869.2" cy="791.4" r="8.5" fill="#ff0000"/>
<circle cx="872.0" cy="790.0" r="8.5" fill="#ff0000"/>
<circle cx="841.0" cy="770.0" r="8.5" fill="#ff0000"/>
<circle cx="835.0" cy="782.0" r="8.5" fill="#ff0000"/>
<polyline points="860.0,622.0 860.0,868.0" fill="none" stroke="#ff0000" stroke-width="4" stroke-linejoin="round" stroke-linecap="round"/>
<polyline points="864.0,622.0 864.0,868.0" fill="none" stroke="#ff0000" stroke-width="4" stroke-linejoin="round" stroke-linecap="round"/>
<polyline points="868.0,622.0 868.0,868.0" fill="none" stroke="#ff0000" stroke-width="4" stroke-linejoin="round" stroke-linecap="round"/>
<polyline points="872.0,622.0 872.0,868.0" fill="none" stroke="#ff0000" stroke-width="4" stroke-linejoin="round" stroke-linecap="round"/>
<circle cx="862.0" cy="840.0" r="8.5" fill="#ff0000"/>
<circle cx="866.0" cy="855.0" r="8.5" fill="#ff0000"/>
<circle cx="868.0" cy="868.0" r="8.5" fill="#ff0000"/>
<circle cx="861.0" cy="636.0" r="8.5" fill="#ff0000"/>
<circle cx="867.0" cy="625.0" r="8.5" fill="#ff0000"/>
<circle cx="872.0" cy="654.0" r="8.5" fill="#ff0000"/>
<circle cx="867.7" cy="627.0" r="8.5" fill="#ff0000"/>
<circle cx="859.4" cy="638.0" r="8.5" fill="#ff0000"/>
<circle cx="871.2" cy="656.7" r="8.5" fill="#ff0000"/>
<circle cx="866.0" cy="846.0" r="8.5" fill="#ff0000"/>
<circle cx="862.0" cy="862.0" r="8.5" fill="#ff0000"/>
<polyline points="886.0,570.0 886.0,800.0" fill="none" stroke="#ff0000" stroke-width="4" stroke-linejoin="round" stroke-linecap="round"/>
<polyline points="890.0,570.0 890.0,800.0" fill="none" stroke="#ff0000" stroke-width="4" stroke-linejoin="round" stroke-linecap="round"/>
<polyline points="894.0,570.0 894.0,800.0" fill="none" stroke="#ff0000" stroke-width="4" stroke-linejoin="round" stroke-linecap="round"/>
<circle cx="888.0" cy="795.0" r="8.5" fill="#ff0000"/>
<circle cx="888.0" cy="820.0" r="8.5" fill="#ff0000"/>
<circle cx="888.0" cy="845.0" r="8.5" fill="#ff0000"/>
<circle cx="912.0" cy="813.0" r="8.5" fill="#ff0000"/>
<polyline points="888.0,800.0 888.0,845.0" fill="none" stroke="#ff0000" stroke-width="4" stroke-linejoin="round" stroke-linecap="round"/>
<circle cx="903.0" cy="700.0" r="8.5" fill="#ff0000"/>
<circle cx="904.8" cy="703.0" r="8.5" fill="#ff0000"/>
<circle cx="906.5" cy="706.0" r="8.5" fill="#ff0000"/>
<circle cx="908.2" cy="709.0" r="8.5" fill="#ff0000"/>
<circle cx="910.0" cy="712.0" r="8.5" fill="#ff0000"/>
<circle cx="911.6" cy="714.6" r="8.5" fill="#ff0000"/>
<circle cx="913.2" cy="717.2" r="8.5" fill="#ff0000"/>
<circle cx="914.8" cy="719.8" r="8.5" fill="#ff0000"/>
<circle cx="916.4" cy="722.4" r="8.5" fill="#ff0000"/>
<circle cx="918.0" cy="725.0" r="8.5" fill="#ff0000"/>
<polyline points="912.0,708.0 912.0,813.0" fill="none" stroke="#ff0000" stroke-width="4" stroke-linejoin="round" stroke-linecap="round"/>
<polyline points="911.0,570.0 911.0,800.0" fill="none" stroke="#ff0000" stroke-width="4" stroke-linejoin="round" stroke-linecap="round"/>
<circle cx="921.0" cy="630.0" r="8.5" fill="#ff0000"/>
<circle cx="922.5" cy="633.0" r="8.5" fill="#ff0000"/>
<circle cx="924.0" cy="636.0" r="8.5" fill="#ff0000"/>
<circle cx="925.5" cy="639.0" r="8.5" fill="#ff0000"/>
<circle cx="927.0" cy="642.0" r="8.5" fill="#ff0000"/>
<circle cx="928.5" cy="645.0" r="8.5" fill="#ff0000"/>
<circle cx="930.0" cy="648.0" r="8.5" fill="#ff0000"/>
<circle cx="930.8" cy="651.3" r="8.5" fill="#ff0000"/>
<circle cx="931.7" cy="654.7" r="8.5" fill="#ff0000"/>
<circle cx="932.5" cy="658.0" r="8.5" fill="#ff0000"/>
<circle cx="933.3" cy="661.3" r="8.5" fill="#ff0000"/>
<circle cx="934.2" cy="664.7" r="8.5" fill="#ff0000"/>
<circle cx="935.0" cy="668.0" r="8.5" fill="#ff0000"/>
<circle cx="933.2" cy="670.4" r="8.5" fill="#ff0000"/>
<circle cx="931.4" cy="672.8" r="8.5" fill="#ff0000"/>
<circle cx="929.6" cy="675.2" r="8.5" fill="#ff0000"/>
<circle cx="927.8" cy="677.6" r="8.5" fill="#ff0000"/>
<circle cx="926.0" cy="680.0" r="8.5" fill="#ff0000"/>
<circle cx="880.0" cy="728.0" r="8.5" fill="#ff0000"/>
<circle cx="882.5" cy="725.8" r="8.5" fill="#ff0000"/>
<circle cx="885.0" cy="723.7" r="8.5" fill="#ff0000"/>
<circle cx="887.5" cy="721.5" r="8.5" fill="#ff0000"/>
<circle cx="890.0" cy="719.3" r="8.5" fill="#ff0000"/>
<circle cx="892.5" cy="717.2" r="8.5" fill="#ff0000"/>
<circle cx="895.0" cy="715.0" r="8.5" fill="#ff0000"/>
<circle cx="897.2" cy="712.8" r="8.5" fill="#ff0000"/>
<circle cx="899.3" cy="710.7" r="8.5" fill="#ff0000"/>
<circle cx="901.5" cy="708.5" r="8.5" fill="#ff0000"/>
<circle cx="903.7" cy="706.3" r="8.5" fill="#ff0000"/>
<circle cx="905.8" cy="704.2" r="8.5" fill="#ff0000"/>
<circle cx="908.0" cy="702.0" r="8.5" fill="#ff0000"/>
<circle cx="910.5" cy="700.2" r="8.5" fill="#ff0000"/>
<circle cx="913.0" cy="698.5" r="8.5" fill="#ff0000"/>
<circle cx="915.5" cy="696.8" r="8.5" fill="#ff0000"/>
<circle cx="918.0" cy="695.0" r="8.5" fill="#ff0000"/>
<circle cx="920.0" cy="640.0" r="8.5" fill="#ff0000"/>
<circle cx="923.0" cy="638.6" r="8.5" fill="#ff0000"/>
<circle cx="926.0" cy="637.2" r="8.5" fill="#ff0000"/>
<circle cx="929.0" cy="635.8" r="8.5" fill="#ff0000"/>
<circle cx="932.0" cy="634.4" r="8.5" fill="#ff0000"/>
<circle cx="935.0" cy="633.0" r="8.5" fill="#ff0000"/>
<circle cx="938.0" cy="634.4" r="8.5" fill="#ff0000"/>
<circle cx="941.0" cy="635.8" r="8.5" fill="#ff0000"/>
<circle cx="944.0" cy="637.2" r="8.5" fill="#ff0000"/>
<circle cx="947.0" cy="638.6" r="8.5" fill="#ff0000"/>
<circle cx="950.0" cy="640.0" r="8.5" fill="#ff0000"/>
<circle cx="951.4" cy="642.9" r="8.5" fill="#ff0000"/>
<circle cx="952.9" cy="645.7" r="8.5" fill="#ff0000"/>
<circle cx="954.3" cy="648.6" r="8.5" fill="#ff0000"/>
<circle cx="955.7" cy="651.4" r="8.5" fill="#ff0000"/>
<circle cx="957.1" cy="654.3" r="8.5" fill="#ff0000"/>
<circle cx="958.6" cy="657.1" r="8.5" fill="#ff0000"/>
<circle cx="960.0" cy="660.0" r="8.5" fill="#ff0000"/>
<circle cx="959.2" cy="663.3" r="8.5" fill="#ff0000"/>
<circle cx="958.3" cy="666.7" r="8.5" fill="#ff0000"/>
<circle cx="957.5" cy="670.0" r="8.5" fill="#ff0000"/>
<circle cx="956.7" cy="673.3" r="8.5" fill="#ff0000"/>
<circle cx="955.8" cy="676.7" r="8.5" fill="#ff0000"/>
<circle cx="955.0" cy="680.0" r="8.5" fill="#ff0000"/>
<circle cx="951.8" cy="681.3" r="8.5" fill="#ff0000"/>
<circle cx="948.7" cy="682.7" r="8.5" fill="#ff0000"/>
<circle cx="945.5" cy="684.0" r="8.5" fill="#ff0000"/>
<circle cx="942.3" cy="685.3" r="8.5" fill="#ff0000"/>
<circle cx="939.2" cy="686.7" r="8.5" fill="#ff0000"/>
<circle cx="936.0" cy="688.0" r="8.5" fill="#ff0000"/>
<circle cx="933.0" cy="686.4" r="8.5" fill="#ff0000"/>
<circle cx="930.0" cy="684.8" r="8.5" fill="#ff0000"/>
<circle cx="927.0" cy="683.2" r="8.5" fill="#ff0000"/>
<circle cx="924.0" cy="681.6" r="8.5" fill="#ff0000"/>
<circle cx="921.0" cy="680.0" r="8.5" fill="#ff0000"/>
<circle cx="920.2" cy="676.7" r="8.5" fill="#ff0000"/>
<circle cx="919.3" cy="673.3" r="8.5" fill="#ff0000"/>
<circle cx="918.5" cy="670.0" r="8.5" fill="#ff0000"/>
<circle cx="917.7" cy="666.7" r="8.5" fill="#ff0000"/>
<circle cx="916.8" cy="663.3" r="8.5" fill="#ff0000"/>
<circle cx="916.0" cy="660.0" r="8.5" fill="#ff0000"/>
<circle cx="887.7" cy="537.7" r="8.5" fill="#ff0000"/>
<circle cx="886.5" cy="557.7" r="8.5" fill="#ff0000"/>
<circle cx="894.8" cy="570.7" r="8.5" fill="#ff0000"/>
<circle cx="912.4" cy="555.4" r="8.5" fill="#ff0000"/>
<circle cx="910.0" cy="570.7" r="8.5" fill="#ff0000"/>
<circle cx="939.5" cy="556.5" r="8.5" fill="#ff0000"/>
<circle cx="963.0" cy="539.0" r="8.5" fill="#ff0000"/>
<circle cx="963.0" cy="554.0" r="8.5" fill="#ff0000"/>
<circle cx="965.5" cy="566.0" r="8.5" fill="#ff0000"/>
<circle cx="993.7" cy="555.4" r="8.5" fill="#ff0000"/>
<circle cx="991.4" cy="576.6" r="8.5" fill="#ff0000"/>
<polyline points="939.5,568.0 939.5,632.0" fill="none" stroke="#ff0000" stroke-width="4" stroke-linejoin="round" stroke-linecap="round"/>
<circle cx="966.0" cy="590.0" r="8.5" fill="#ff0000"/>
<circle cx="967.8" cy="592.4" r="8.5" fill="#ff0000"/>
<circle cx="969.6" cy="594.8" r="8.5" fill="#ff0000"/>
<circle cx="971.4" cy="597.2" r="8.5" fill="#ff0000"/>
<circle cx="973.2" cy="599.6" r="8.5" fill="#ff0000"/>
<circle cx="975.0" cy="602.0" r="8.5" fill="#ff0000"/>
<circle cx="975.8" cy="605.5" r="8.5" fill="#ff0000"/>
<circle cx="976.5" cy="609.0" r="8.5" fill="#ff0000"/>
<circle cx="977.2" cy="612.5" r="8.5" fill="#ff0000"/>
<circle cx="978.0" cy="616.0" r="8.5" fill="#ff0000"/>
<circle cx="960.7" cy="622.5" r="8.5" fill="#ff0000"/>
<polyline points="960.7,634.0 960.7,653.0" fill="none" stroke="#ff0000" stroke-width="4" stroke-linejoin="round" stroke-linecap="round"/>
<circle cx="996.0" cy="600.0" r="8.5" fill="#ff0000"/>
<circle cx="997.8" cy="603.0" r="8.5" fill="#ff0000"/>
<circle cx="999.6" cy="606.0" r="8.5" fill="#ff0000"/>
<circle cx="1001.4" cy="609.0" r="8.5" fill="#ff0000"/>
<circle cx="1003.2" cy="612.0" r="8.5" fill="#ff0000"/>
<circle cx="1005.0" cy="615.0" r="8.5" fill="#ff0000"/>
<circle cx="1006.7" cy="617.5" r="8.5" fill="#ff0000"/>
<circle cx="1008.3" cy="620.0" r="8.5" fill="#ff0000"/>
<circle cx="1010.0" cy="622.5" r="8.5" fill="#ff0000"/>
<circle cx="1011.7" cy="625.0" r="8.5" fill="#ff0000"/>
<circle cx="1013.3" cy="627.5" r="8.5" fill="#ff0000"/>
<circle cx="1015.0" cy="630.0" r="8.5" fill="#ff0000"/>
<circle cx="1016.7" cy="632.5" r="8.5" fill="#ff0000"/>
<circle cx="1018.3" cy="635.0" r="8.5" fill="#ff0000"/>
<circle cx="1020.0" cy="637.5" r="8.5" fill="#ff0000"/>
<circle cx="1021.7" cy="640.0" r="8.5" fill="#ff0000"/>
<circle cx="1023.3" cy="642.5" r="8.5" fill="#ff0000"/>
<circle cx="1025.0" cy="645.0" r="8.5" fill="#ff0000"/>
<circle cx="1027.5" cy="647.5" r="8.5" fill="#ff0000"/>
<circle cx="1030.0" cy="650.0" r="8.5" fill="#ff0000"/>
<circle cx="1029.0" cy="541.0" r="8.5" fill="#ff0000"/>
<circle cx="1028.0" cy="587.0" r="8.5" fill="#ff0000"/>
<circle cx="1047.0" cy="550.0" r="8.5" fill="#ff0000"/>
<circle cx="1066.0" cy="561.0" r="8.5" fill="#ff0000"/>
<circle cx="1032.0" cy="497.0" r="8.5" fill="#ff0000"/>
<circle cx="1033.5" cy="500.2" r="8.5" fill="#ff0000"/>
<circle cx="1035.0" cy="503.5" r="8.5" fill="#ff0000"/>
<circle cx="1036.5" cy="506.8" r="8.5" fill="#ff0000"/>
<circle cx="1038.0" cy="510.0" r="8.5" fill="#ff0000"/>
<circle cx="1038.8" cy="513.0" r="8.5" fill="#ff0000"/>
<circle cx="1039.6" cy="516.0" r="8.5" fill="#ff0000"/>
<circle cx="1040.4" cy="519.0" r="8.5" fill="#ff0000"/>
<circle cx="1041.2" cy="522.0" r="8.5" fill="#ff0000"/>
<circle cx="1042.0" cy="525.0" r="8.5" fill="#ff0000"/>
<circle cx="1051.0" cy="590.0" r="8.5" fill="#ff0000"/>
<circle cx="1054.7" cy="590.7" r="8.5" fill="#ff0000"/>
<circle cx="1058.3" cy="591.3" r="8.5" fill="#ff0000"/>
<circle cx="1062.0" cy="592.0" r="8.5" fill="#ff0000"/>
<circle cx="1072.0" cy="515.0" r="8.5" fill="#ff0000"/>
<circle cx="1074.2" cy="517.5" r="8.5" fill="#ff0000"/>
<circle cx="1076.3" cy="520.0" r="8.5" fill="#ff0000"/>
<circle cx="1078.5" cy="522.5" r="8.5" fill="#ff0000"/>
<circle cx="1080.7" cy="525.0" r="8.5" fill="#ff0000"/>
<circle cx="1082.8" cy="527.5" r="8.5" fill="#ff0000"/>
<circle cx="1085.0" cy="530.0" r="8.5" fill="#ff0000"/>
<circle cx="1087.5" cy="531.7" r="8.5" fill="#ff0000"/>
<circle cx="1090.0" cy="533.3" r="8.5" fill="#ff0000"/>
<circle cx="1092.5" cy="535.0" r="8.5" fill="#ff0000"/>
<circle cx="1095.0" cy="536.7" r="8.5" fill="#ff0000"/>
<circle cx="1097.5" cy="538.3" r="8.5" fill="#ff0000"/>
<circle cx="1100.0" cy="540.0" r="8.5" fill="#ff0000"/>
<circle cx="1096.7" cy="541.7" r="8.5" fill="#ff0000"/>
<circle cx="1093.3" cy="543.3" r="8.5" fill="#ff0000"/>
<circle cx="1090.0" cy="545.0" r="8.5" fill="#ff0000"/>
<circle cx="1094.0" cy="455.0" r="8.5" fill="#ff0000"/>
<circle cx="1094.0" cy="458.0" r="8.5" fill="#ff0000"/>
<circle cx="1094.0" cy="461.0" r="8.5" fill="#ff0000"/>
<circle cx="1094.0" cy="464.0" r="8.5" fill="#ff0000"/>
<circle cx="1094.0" cy="467.0" r="8.5" fill="#ff0000"/>
<polyline points="1026.6,597.0 1026.6,623.0" fill="none" stroke="#ff0000" stroke-width="4" stroke-linejoin="round" stroke-linecap="round"/>
<polyline points="1029.0,550.0 1029.0,576.0" fill="none" stroke="#ff0000" stroke-width="4" stroke-linejoin="round" stroke-linecap="round"/>
<circle cx="1093.0" cy="456.0" r="8.5" fill="#ff0000"/>
<circle cx="1096.0" cy="455.8" r="8.5" fill="#ff0000"/>
<circle cx="1099.0" cy="455.5" r="8.5" fill="#ff0000"/>
<circle cx="1102.0" cy="455.2" r="8.5" fill="#ff0000"/>
<circle cx="1105.0" cy="455.0" r="8.5" fill="#ff0000"/>
<circle cx="1108.0" cy="456.0" r="8.5" fill="#ff0000"/>
<circle cx="1111.0" cy="457.0" r="8.5" fill="#ff0000"/>
<circle cx="1114.0" cy="458.0" r="8.5" fill="#ff0000"/>
<circle cx="1117.0" cy="459.0" r="8.5" fill="#ff0000"/>
<circle cx="1119.8" cy="461.0" r="8.5" fill="#ff0000"/>
<circle cx="1122.5" cy="463.0" r="8.5" fill="#ff0000"/>
<circle cx="1125.2" cy="465.0" r="8.5" fill="#ff0000"/>
<circle cx="1128.0" cy="467.0" r="8.5" fill="#ff0000"/>
<circle cx="1131.0" cy="467.2" r="8.5" fill="#ff0000"/>
<circle cx="1134.0" cy="467.5" r="8.5" fill="#ff0000"/>
<circle cx="1137.0" cy="467.8" r="8.5" fill="#ff0000"/>
<circle cx="1140.0" cy="468.0" r="8.5" fill="#ff0000"/>
<circle cx="1143.5" cy="469.0" r="8.5" fill="#ff0000"/>
<circle cx="1147.0" cy="470.0" r="8.5" fill="#ff0000"/>
<circle cx="1147.4" cy="473.0" r="8.5" fill="#ff0000"/>
<circle cx="1147.8" cy="476.0" r="8.5" fill="#ff0000"/>
<circle cx="1148.2" cy="479.0" r="8.5" fill="#ff0000"/>
<circle cx="1148.6" cy="482.0" r="8.5" fill="#ff0000"/>
<circle cx="1149.0" cy="485.0" r="8.5" fill="#ff0000"/>
<circle cx="1149.4" cy="488.0" r="8.5" fill="#ff0000"/>
<circle cx="1149.8" cy="491.0" r="8.5" fill="#ff0000"/>
<circle cx="1150.1" cy="494.0" r="8.5" fill="#ff0000"/>
<circle cx="1150.5" cy="497.0" r="8.5" fill="#ff0000"/>
<circle cx="1150.9" cy="500.0" r="8.5" fill="#ff0000"/>
<circle cx="1151.2" cy="503.0" r="8.5" fill="#ff0000"/>
<circle cx="1151.6" cy="506.0" r="8.5" fill="#ff0000"/>
<circle cx="1152.0" cy="509.0" r="8.5" fill="#ff0000"/>
<circle cx="1155.2" cy="509.2" r="8.5" fill="#ff0000"/>
<circle cx="1158.4" cy="509.4" r="8.5" fill="#ff0000"/>
<circle cx="1161.6" cy="509.6" r="8.5" fill="#ff0000"/>
<circle cx="1164.8" cy="509.8" r="8.5" fill="#ff0000"/>
<circle cx="1168.0" cy="510.0" r="8.5" fill="#ff0000"/>
<circle cx="1171.2" cy="511.4" r="8.5" fill="#ff0000"/>
<circle cx="1174.4" cy="512.8" r="8.5" fill="#ff0000"/>
<circle cx="1177.6" cy="514.2" r="8.5" fill="#ff0000"/>
<circle cx="1180.8" cy="515.6" r="8.5" fill="#ff0000"/>
<circle cx="1184.0" cy="517.0" r="8.5" fill="#ff0000"/>
<circle cx="1187.2" cy="518.2" r="8.5" fill="#ff0000"/>
<circle cx="1190.4" cy="519.4" r="8.5" fill="#ff0000"/>
<circle cx="1193.6" cy="520.6" r="8.5" fill="#ff0000"/>
<circle cx="1196.8" cy="521.8" r="8.5" fill="#ff0000"/>
<circle cx="1200.0" cy="523.0" r="8.5" fill="#ff0000"/>
<circle cx="1202.7" cy="524.7" r="8.5" fill="#ff0000"/>
<circle cx="1205.3" cy="526.3" r="8.5" fill="#ff0000"/>
<circle cx="1208.0" cy="528.0" r="8.5" fill="#ff0000"/>
<circle cx="1210.7" cy="529.7" r="8.5" fill="#ff0000"/>
<circle cx="1213.3" cy="531.3" r="8.5" fill="#ff0000"/>
<circle cx="1216.0" cy="533.0" r="8.5" fill="#ff0000"/>
<circle cx="1219.7" cy="534.0" r="8.5" fill="#ff0000"/>
<circle cx="1223.3" cy="535.0" r="8.5" fill="#ff0000"/>
<circle cx="1227.0" cy="536.0" r="8.5" fill="#ff0000"/>
<circle cx="1229.7" cy="537.8" r="8.5" fill="#ff0000"/>
<circle cx="1232.3" cy="539.7" r="8.5" fill="#ff0000"/>
<circle cx="1235.0" cy="541.5" r="8.5" fill="#ff0000"/>
<circle cx="1237.7" cy="543.3" r="8.5" fill="#ff0000"/>
<circle cx="1240.3" cy="545.2" r="8.5" fill="#ff0000"/>
<circle cx="1243.0" cy="547.0" r="8.5" fill="#ff0000"/>
<circle cx="1093.0" cy="462.0" r="8.5" fill="#ff0000"/>
<circle cx="1096.0" cy="462.0" r="8.5" fill="#ff0000"/>
<circle cx="1099.0" cy="462.0" r="8.5" fill="#ff0000"/>
<circle cx="1102.0" cy="462.0" r="8.5" fill="#ff0000"/>
<circle cx="1105.0" cy="462.0" r="8.5" fill="#ff0000"/>
<circle cx="1108.0" cy="462.8" r="8.5" fill="#ff0000"/>
<circle cx="1111.0" cy="463.5" r="8.5" fill="#ff0000"/>
<circle cx="1114.0" cy="464.2" r="8.5" fill="#ff0000"/>
<circle cx="1117.0" cy="465.0" r="8.5" fill="#ff0000"/>
<circle cx="1119.8" cy="466.8" r="8.5" fill="#ff0000"/>
<circle cx="1122.5" cy="468.5" r="8.5" fill="#ff0000"/>
<circle cx="1125.2" cy="470.2" r="8.5" fill="#ff0000"/>
<circle cx="1128.0" cy="472.0" r="8.5" fill="#ff0000"/>
<circle cx="1131.0" cy="472.5" r="8.5" fill="#ff0000"/>
<circle cx="1134.0" cy="473.0" r="8.5" fill="#ff0000"/>
<circle cx="1137.0" cy="473.5" r="8.5" fill="#ff0000"/>
<circle cx="1140.0" cy="474.0" r="8.5" fill="#ff0000"/>
<circle cx="1144.0" cy="476.0" r="8.5" fill="#ff0000"/>
<circle cx="1148.0" cy="478.0" r="8.5" fill="#ff0000"/>
<circle cx="1148.6" cy="481.4" r="8.5" fill="#ff0000"/>
<circle cx="1149.2" cy="484.8" r="8.5" fill="#ff0000"/>
<circle cx="1149.8" cy="488.2" r="8.5" fill="#ff0000"/>
<circle cx="1150.4" cy="491.6" r="8.5" fill="#ff0000"/>
<circle cx="1151.0" cy="495.0" r="8.5" fill="#ff0000"/>
<circle cx="1152.0" cy="498.4" r="8.5" fill="#ff0000"/>
<circle cx="1153.0" cy="501.8" r="8.5" fill="#ff0000"/>
<circle cx="1154.0" cy="505.2" r="8.5" fill="#ff0000"/>
<circle cx="1155.0" cy="508.6" r="8.5" fill="#ff0000"/>
<circle cx="1156.0" cy="512.0" r="8.5" fill="#ff0000"/>
<circle cx="1159.5" cy="512.8" r="8.5" fill="#ff0000"/>
<circle cx="1163.0" cy="513.5" r="8.5" fill="#ff0000"/>
<circle cx="1166.5" cy="514.2" r="8.5" fill="#ff0000"/>
<circle cx="1170.0" cy="515.0" r="8.5" fill="#ff0000"/>
<circle cx="1173.2" cy="516.2" r="8.5" fill="#ff0000"/>
<circle cx="1176.4" cy="517.4" r="8.5" fill="#ff0000"/>
<circle cx="1179.6" cy="518.6" r="8.5" fill="#ff0000"/>
<circle cx="1182.8" cy="519.8" r="8.5" fill="#ff0000"/>
<circle cx="1186.0" cy="521.0" r="8.5" fill="#ff0000"/>
<circle cx="1189.2" cy="522.2" r="8.5" fill="#ff0000"/>
<circle cx="1192.4" cy="523.4" r="8.5" fill="#ff0000"/>
<circle cx="1195.6" cy="524.6" r="8.5" fill="#ff0000"/>
<circle cx="1198.8" cy="525.8" r="8.5" fill="#ff0000"/>
<circle cx="1202.0" cy="527.0" r="8.5" fill="#ff0000"/>
<circle cx="1204.7" cy="528.7" r="8.5" fill="#ff0000"/>
<circle cx="1207.3" cy="530.3" r="8.5" fill="#ff0000"/>
<circle cx="1210.0" cy="532.0" r="8.5" fill="#ff0000"/>
<circle cx="1212.7" cy="533.7" r="8.5" fill="#ff0000"/>
<circle cx="1215.3" cy="535.3" r="8.5" fill="#ff0000"/>
<circle cx="1218.0" cy="537.0" r="8.5" fill="#ff0000"/>
<circle cx="1221.0" cy="537.8" r="8.5" fill="#ff0000"/>
<circle cx="1224.0" cy="538.5" r="8.5" fill="#ff0000"/>
<circle cx="1227.0" cy="539.2" r="8.5" fill="#ff0000"/>
<circle cx="1230.0" cy="540.0" r="8.5" fill="#ff0000"/>
<circle cx="1232.8" cy="542.0" r="8.5" fill="#ff0000"/>
<circle cx="1235.6" cy="544.0" r="8.5" fill="#ff0000"/>
<circle cx="1238.4" cy="546.0" r="8.5" fill="#ff0000"/>
<circle cx="1241.2" cy="548.0" r="8.5" fill="#ff0000"/>
<circle cx="1244.0" cy="550.0" r="8.5" fill="#ff0000"/>
<circle cx="1096.0" cy="453.0" r="8.5" fill="#ff0000"/>
<circle cx="1095.5" cy="456.2" r="8.5" fill="#ff0000"/>
<circle cx="1095.0" cy="459.3" r="8.5" fill="#ff0000"/>
<circle cx="1094.5" cy="462.5" r="8.5" fill="#ff0000"/>
<circle cx="1094.0" cy="465.7" r="8.5" fill="#ff0000"/>
<circle cx="1093.5" cy="468.8" r="8.5" fill="#ff0000"/>
<circle cx="1093.0" cy="472.0" r="8.5" fill="#ff0000"/>
<circle cx="1094.7" cy="474.5" r="8.5" fill="#ff0000"/>
<circle cx="1096.5" cy="476.9" r="8.5" fill="#ff0000"/>
<circle cx="1098.2" cy="479.4" r="8.5" fill="#ff0000"/>
<circle cx="1099.9" cy="481.8" r="8.5" fill="#ff0000"/>
<circle cx="1101.6" cy="484.3" r="8.5" fill="#ff0000"/>
<circle cx="1103.4" cy="486.7" r="8.5" fill="#ff0000"/>
<circle cx="1105.1" cy="489.2" r="8.5" fill="#ff0000"/>
<circle cx="1106.8" cy="491.6" r="8.5" fill="#ff0000"/>
<circle cx="1108.5" cy="494.1" r="8.5" fill="#ff0000"/>
<circle cx="1110.3" cy="496.5" r="8.5" fill="#ff0000"/>
<circle cx="1112.0" cy="499.0" r="8.5" fill="#ff0000"/>
<circle cx="1111.2" cy="502.0" r="8.5" fill="#ff0000"/>
<circle cx="1110.5" cy="505.0" r="8.5" fill="#ff0000"/>
<circle cx="1109.7" cy="508.0" r="8.5" fill="#ff0000"/>
<circle cx="1109.0" cy="511.0" r="8.5" fill="#ff0000"/>
<circle cx="1108.2" cy="514.0" r="8.5" fill="#ff0000"/>
<circle cx="1107.5" cy="517.0" r="8.5" fill="#ff0000"/>
<circle cx="1106.7" cy="520.0" r="8.5" fill="#ff0000"/>
<circle cx="1105.9" cy="523.1" r="8.5" fill="#ff0000"/>
<circle cx="1105.1" cy="526.1" r="8.5" fill="#ff0000"/>
<circle cx="1104.3" cy="529.2" r="8.5" fill="#ff0000"/>
<circle cx="1103.4" cy="532.3" r="8.5" fill="#ff0000"/>
<circle cx="1102.6" cy="535.4" r="8.5" fill="#ff0000"/>
<circle cx="1101.8" cy="538.4" r="8.5" fill="#ff0000"/>
<circle cx="1101.0" cy="541.5" r="8.5" fill="#ff0000"/>
<circle cx="1248.0" cy="573.0" r="8.5" fill="#ff0000"/>
<circle cx="1250.2" cy="575.3" r="8.5" fill="#ff0000"/>
<circle cx="1252.5" cy="577.7" r="8.5" fill="#ff0000"/>
<circle cx="1254.8" cy="580.0" r="8.5" fill="#ff0000"/>
<circle cx="1257.0" cy="582.3" r="8.5" fill="#ff0000"/>
<circle cx="1259.2" cy="584.7" r="8.5" fill="#ff0000"/>
<circle cx="1261.5" cy="587.0" r="8.5" fill="#ff0000"/>
<circle cx="1265.5" cy="588.2" r="8.5" fill="#ff0000"/>
<circle cx="1269.5" cy="589.5" r="8.5" fill="#ff0000"/>
<polyline points="1270.0,590.0 1270.0,1059.0" fill="none" stroke="#ff0000" stroke-width="4" stroke-linejoin="round" stroke-linecap="round"/>
<circle cx="1271.0" cy="1059.5" r="8.5" fill="#ff0000"/>
<circle cx="1274.4" cy="1059.5" r="8.5" fill="#ff0000"/>
<circle cx="1277.8" cy="1059.5" r="8.5" fill="#ff0000"/>
<circle cx="1281.2" cy="1059.5" r="8.5" fill="#ff0000"/>
<circle cx="1284.6" cy="1059.5" r="8.5" fill="#ff0000"/>
<circle cx="1288.0" cy="1059.5" r="8.5" fill="#ff0000"/>
<circle cx="1306.0" cy="1059.5" r="8.5" fill="#ff0000"/>
<circle cx="1309.0" cy="1059.5" r="8.5" fill="#ff0000"/>
<circle cx="1312.0" cy="1059.5" r="8.5" fill="#ff0000"/>
<circle cx="1315.0" cy="1059.5" r="8.5" fill="#ff0000"/>
<circle cx="1318.0" cy="1059.5" r="8.5" fill="#ff0000"/>
<circle cx="1321.0" cy="1059.5" r="8.5" fill="#ff0000"/>
<circle cx="1324.0" cy="1059.5" r="8.5" fill="#ff0000"/>
<circle cx="1327.0" cy="1059.5" r="8.5" fill="#ff0000"/>
<circle cx="1330.0" cy="1059.5" r="8.5" fill="#ff0000"/>
<circle cx="1333.0" cy="1059.5" r="8.5" fill="#ff0000"/>
<circle cx="1336.0" cy="1059.5" r="8.5" fill="#ff0000"/>
<circle cx="1339.0" cy="1059.5" r="8.5" fill="#ff0000"/>
<polyline points="1340.0,1059.0 1342.6,792.0" fill="none" stroke="#ff0000" stroke-width="4" stroke-linejoin="round" stroke-linecap="round"/>
<circle cx="1342.0" cy="792.0" r="8.5" fill="#ff0000"/>
<circle cx="1343.0" cy="788.3" r="8.5" fill="#ff0000"/>
<circle cx="1344.0" cy="784.7" r="8.5" fill="#ff0000"/>
<circle cx="1345.0" cy="781.0" r="8.5" fill="#ff0000"/>
<circle cx="1345.2" cy="777.8" r="8.5" fill="#ff0000"/>
<circle cx="1345.4" cy="774.6" r="8.5" fill="#ff0000"/>
<circle cx="1345.6" cy="771.4" r="8.5" fill="#ff0000"/>
<circle cx="1345.8" cy="768.2" r="8.5" fill="#ff0000"/>
<circle cx="1346.0" cy="765.0" r="8.5" fill="#ff0000"/>
<circle cx="1346.4" cy="762.0" r="8.5" fill="#ff0000"/>
<circle cx="1346.8" cy="759.0" r="8.5" fill="#ff0000"/>
<circle cx="1347.2" cy="756.0" r="8.5" fill="#ff0000"/>
<circle cx="1347.6" cy="753.0" r="8.5" fill="#ff0000"/>
<circle cx="1348.0" cy="750.0" r="8.5" fill="#ff0000"/>
<circle cx="1348.8" cy="747.0" r="8.5" fill="#ff0000"/>
<circle cx="1349.6" cy="744.0" r="8.5" fill="#ff0000"/>
<circle cx="1350.4" cy="741.0" r="8.5" fill="#ff0000"/>
<circle cx="1351.2" cy="738.0" r="8.5" fill="#ff0000"/>
<circle cx="1352.0" cy="735.0" r="8.5" fill="#ff0000"/>
<circle cx="1352.7" cy="731.7" r="8.5" fill="#ff0000"/>
<circle cx="1353.3" cy="728.3" r="8.5" fill="#ff0000"/>
<circle cx="1354.0" cy="725.0" r="8.5" fill="#ff0000"/>
<circle cx="1354.7" cy="721.7" r="8.5" fill="#ff0000"/>
<circle cx="1355.3" cy="718.3" r="8.5" fill="#ff0000"/>
<circle cx="1356.0" cy="715.0" r="8.5" fill="#ff0000"/>
<circle cx="1356.8" cy="712.0" r="8.5" fill="#ff0000"/>
<circle cx="1357.6" cy="709.0" r="8.5" fill="#ff0000"/>
<circle cx="1358.4" cy="706.0" r="8.5" fill="#ff0000"/>
<circle cx="1359.2" cy="703.0" r="8.5" fill="#ff0000"/>
<circle cx="1360.0" cy="700.0" r="8.5" fill="#ff0000"/>
<circle cx="1361.7" cy="696.7" r="8.5" fill="#ff0000"/>
<circle cx="1363.3" cy="693.3" r="8.5" fill="#ff0000"/>
<circle cx="1365.0" cy="690.0" r="8.5" fill="#ff0000"/>
<circle cx="1365.6" cy="687.0" r="8.5" fill="#ff0000"/>
<circle cx="1366.2" cy="684.0" r="8.5" fill="#ff0000"/>
<circle cx="1366.8" cy="681.0" r="8.5" fill="#ff0000"/>
<circle cx="1367.4" cy="678.0" r="8.5" fill="#ff0000"/>
<circle cx="1368.0" cy="675.0" r="8.5" fill="#ff0000"/>
<circle cx="1368.8" cy="672.0" r="8.5" fill="#ff0000"/>
<circle cx="1369.6" cy="669.0" r="8.5" fill="#ff0000"/>
<circle cx="1370.4" cy="666.0" r="8.5" fill="#ff0000"/>
<circle cx="1371.2" cy="663.0" r="8.5" fill="#ff0000"/>
<circle cx="1372.0" cy="660.0" r="8.5" fill="#ff0000"/>
<circle cx="1372.4" cy="657.0" r="8.5" fill="#ff0000"/>
<circle cx="1372.8" cy="654.0" r="8.5" fill="#ff0000"/>
<circle cx="1373.2" cy="651.0" r="8.5" fill="#ff0000"/>
<circle cx="1373.6" cy="648.0" r="8.5" fill="#ff0000"/>
<circle cx="1374.0" cy="645.0" r="8.5" fill="#ff0000"/>
<circle cx="1374.4" cy="642.0" r="8.5" fill="#ff0000"/>
<circle cx="1374.8" cy="639.0" r="8.5" fill="#ff0000"/>
<circle cx="1375.2" cy="636.0" r="8.5" fill="#ff0000"/>
<circle cx="1375.6" cy="633.0" r="8.5" fill="#ff0000"/>
<circle cx="1376.0" cy="630.0" r="8.5" fill="#ff0000"/>
<circle cx="1376.4" cy="627.0" r="8.5" fill="#ff0000"/>
<circle cx="1376.8" cy="624.0" r="8.5" fill="#ff0000"/>
<circle cx="1377.2" cy="621.0" r="8.5" fill="#ff0000"/>
<circle cx="1377.6" cy="618.0" r="8.5" fill="#ff0000"/>
<circle cx="1378.0" cy="615.0" r="8.5" fill="#ff0000"/>
<circle cx="1378.6" cy="612.0" r="8.5" fill="#ff0000"/>
<circle cx="1379.2" cy="609.0" r="8.5" fill="#ff0000"/>
<circle cx="1379.8" cy="606.0" r="8.5" fill="#ff0000"/>
<circle cx="1380.4" cy="603.0" r="8.5" fill="#ff0000"/>
<circle cx="1381.0" cy="600.0" r="8.5" fill="#ff0000"/>
<circle cx="1381.3" cy="596.7" r="8.5" fill="#ff0000"/>
<circle cx="1381.7" cy="593.3" r="8.5" fill="#ff0000"/>
<circle cx="1382.0" cy="590.0" r="8.5" fill="#ff0000"/>
<circle cx="1382.3" cy="586.7" r="8.5" fill="#ff0000"/>
<circle cx="1382.7" cy="583.3" r="8.5" fill="#ff0000"/>
<circle cx="1383.0" cy="580.0" r="8.5" fill="#ff0000"/>
<circle cx="1383.2" cy="576.7" r="8.5" fill="#ff0000"/>
<circle cx="1383.3" cy="573.3" r="8.5" fill="#ff0000"/>
<circle cx="1383.5" cy="570.0" r="8.5" fill="#ff0000"/>
<circle cx="1383.7" cy="566.7" r="8.5" fill="#ff0000"/>
<circle cx="1383.8" cy="563.3" r="8.5" fill="#ff0000"/>
<circle cx="1384.0" cy="560.0" r="8.5" fill="#ff0000"/>
<circle cx="1384.0" cy="556.8" r="8.5" fill="#ff0000"/>
<circle cx="1384.1" cy="553.5" r="8.5" fill="#ff0000"/>
<circle cx="1384.1" cy="550.2" r="8.5" fill="#ff0000"/>
<circle cx="1384.2" cy="547.0" r="8.5" fill="#ff0000"/>
<circle cx="1384.2" cy="543.8" r="8.5" fill="#ff0000"/>
<circle cx="1384.2" cy="540.5" r="8.5" fill="#ff0000"/>
<circle cx="1384.3" cy="537.2" r="8.5" fill="#ff0000"/>
<circle cx="1384.3" cy="534.0" r="8.5" fill="#ff0000"/>
<circle cx="1364.0" cy="750.0" r="8.5" fill="#ff0000"/>
<circle cx="1364.7" cy="746.7" r="8.5" fill="#ff0000"/>
<circle cx="1365.3" cy="743.3" r="8.5" fill="#ff0000"/>
<circle cx="1366.0" cy="740.0" r="8.5" fill="#ff0000"/>
<circle cx="1366.3" cy="736.7" r="8.5" fill="#ff0000"/>
<circle cx="1366.7" cy="733.3" r="8.5" fill="#ff0000"/>
<circle cx="1367.0" cy="730.0" r="8.5" fill="#ff0000"/>
<circle cx="1367.3" cy="726.7" r="8.5" fill="#ff0000"/>
<circle cx="1367.7" cy="723.3" r="8.5" fill="#ff0000"/>
<circle cx="1368.0" cy="720.0" r="8.5" fill="#ff0000"/>
<circle cx="1368.3" cy="716.7" r="8.5" fill="#ff0000"/>
<circle cx="1368.7" cy="713.3" r="8.5" fill="#ff0000"/>
<circle cx="1369.0" cy="710.0" r="8.5" fill="#ff0000"/>
<circle cx="1369.3" cy="706.7" r="8.5" fill="#ff0000"/>
<circle cx="1369.7" cy="703.3" r="8.5" fill="#ff0000"/>
<circle cx="1370.0" cy="700.0" r="8.5" fill="#ff0000"/>
<circle cx="1370.7" cy="696.7" r="8.5" fill="#ff0000"/>
<circle cx="1371.3" cy="693.3" r="8.5" fill="#ff0000"/>
<circle cx="1372.0" cy="690.0" r="8.5" fill="#ff0000"/>
<circle cx="1372.7" cy="686.7" r="8.5" fill="#ff0000"/>
<circle cx="1373.3" cy="683.3" r="8.5" fill="#ff0000"/>
<circle cx="1374.0" cy="680.0" r="8.5" fill="#ff0000"/>
<circle cx="1374.5" cy="676.7" r="8.5" fill="#ff0000"/>
<circle cx="1375.0" cy="673.3" r="8.5" fill="#ff0000"/>
<circle cx="1375.5" cy="670.0" r="8.5" fill="#ff0000"/>
<circle cx="1376.0" cy="666.7" r="8.5" fill="#ff0000"/>
<circle cx="1376.5" cy="663.3" r="8.5" fill="#ff0000"/>
<circle cx="1377.0" cy="660.0" r="8.5" fill="#ff0000"/>
<circle cx="1346.0" cy="760.0" r="8.5" fill="#ff0000"/>
<circle cx="1348.0" cy="756.7" r="8.5" fill="#ff0000"/>
<circle cx="1350.0" cy="753.3" r="8.5" fill="#ff0000"/>
<circle cx="1352.0" cy="750.0" r="8.5" fill="#ff0000"/>
<circle cx="1355.3" cy="749.3" r="8.5" fill="#ff0000"/>
<circle cx="1358.7" cy="748.7" r="8.5" fill="#ff0000"/>
<circle cx="1362.0" cy="748.0" r="8.5" fill="#ff0000"/>
<circle cx="1384.3" cy="534.0" r="8.5" fill="#ff0000"/>
<circle cx="1384.7" cy="537.4" r="8.5" fill="#ff0000"/>
<circle cx="1385.2" cy="540.8" r="8.5" fill="#ff0000"/>
<circle cx="1385.6" cy="544.2" r="8.5" fill="#ff0000"/>
<circle cx="1386.1" cy="547.6" r="8.5" fill="#ff0000"/>
<circle cx="1386.5" cy="551.0" r="8.5" fill="#ff0000"/>
<circle cx="1387.6" cy="554.0" r="8.5" fill="#ff0000"/>
<circle cx="1388.7" cy="557.0" r="8.5" fill="#ff0000"/>
<circle cx="1389.8" cy="560.0" r="8.5" fill="#ff0000"/>
<circle cx="1390.9" cy="563.0" r="8.5" fill="#ff0000"/>
<circle cx="1392.0" cy="566.0" r="8.5" fill="#ff0000"/>
<circle cx="1393.1" cy="569.0" r="8.5" fill="#ff0000"/>
<circle cx="1394.2" cy="572.0" r="8.5" fill="#ff0000"/>
<circle cx="1395.3" cy="575.0" r="8.5" fill="#ff0000"/>
<circle cx="1395.5" cy="578.0" r="8.5" fill="#ff0000"/>
<circle cx="1395.7" cy="581.0" r="8.5" fill="#ff0000"/>
<circle cx="1396.0" cy="584.0" r="8.5" fill="#ff0000"/>
<circle cx="1396.2" cy="587.0" r="8.5" fill="#ff0000"/>
<circle cx="1396.4" cy="590.0" r="8.5" fill="#ff0000"/>
<circle cx="1398.1" cy="593.1" r="8.5" fill="#ff0000"/>
<circle cx="1399.7" cy="596.2" r="8.5" fill="#ff0000"/>
<circle cx="1401.3" cy="599.3" r="8.5" fill="#ff0000"/>
<circle cx="1403.0" cy="602.4" r="8.5" fill="#ff0000"/>
<circle cx="1405.8" cy="604.6" r="8.5" fill="#ff0000"/>
<circle cx="1408.5" cy="606.8" r="8.5" fill="#ff0000"/>
<circle cx="1411.2" cy="609.0" r="8.5" fill="#ff0000"/>
<circle cx="1414.0" cy="611.2" r="8.5" fill="#ff0000"/>
<circle cx="1416.0" cy="585.0" r="8.5" fill="#ff0000"/>
<circle cx="1419.0" cy="587.1" r="8.5" fill="#ff0000"/>
<circle cx="1422.0" cy="589.3" r="8.5" fill="#ff0000"/>
<circle cx="1425.0" cy="591.4" r="8.5" fill="#ff0000"/>
<circle cx="1427.9" cy="593.3" r="8.5" fill="#ff0000"/>
<circle cx="1430.8" cy="595.1" r="8.5" fill="#ff0000"/>
<circle cx="1433.7" cy="597.0" r="8.5" fill="#ff0000"/>
<circle cx="1437.0" cy="598.1" r="8.5" fill="#ff0000"/>
<circle cx="1440.3" cy="599.1" r="8.5" fill="#ff0000"/>
<circle cx="1443.7" cy="600.2" r="8.5" fill="#ff0000"/>
<circle cx="1447.0" cy="601.3" r="8.5" fill="#ff0000"/>
<circle cx="1436.0" cy="613.4" r="8.5" fill="#ff0000"/>
<circle cx="1438.2" cy="616.1" r="8.5" fill="#ff0000"/>
<circle cx="1440.3" cy="618.9" r="8.5" fill="#ff0000"/>
<circle cx="1442.5" cy="621.6" r="8.5" fill="#ff0000"/>
<circle cx="1444.7" cy="624.4" r="8.5" fill="#ff0000"/>
<circle cx="1445.8" cy="620.5" r="8.5" fill="#ff0000"/>
<circle cx="1447.0" cy="616.7" r="8.5" fill="#ff0000"/>
<circle cx="1447.0" cy="613.6" r="8.5" fill="#ff0000"/>
<circle cx="1447.0" cy="610.5" r="8.5" fill="#ff0000"/>
<circle cx="1447.0" cy="607.5" r="8.5" fill="#ff0000"/>
<circle cx="1447.0" cy="604.4" r="8.5" fill="#ff0000"/>
<circle cx="1447.0" cy="601.3" r="8.5" fill="#ff0000"/>
<circle cx="1449.0" cy="584.8" r="8.5" fill="#ff0000"/>
<circle cx="1449.2" cy="581.7" r="8.5" fill="#ff0000"/>
<circle cx="1449.4" cy="578.5" r="8.5" fill="#ff0000"/>
<circle cx="1449.6" cy="575.4" r="8.5" fill="#ff0000"/>
<circle cx="1449.8" cy="572.3" r="8.5" fill="#ff0000"/>
<circle cx="1450.0" cy="569.1" r="8.5" fill="#ff0000"/>
<circle cx="1450.2" cy="566.0" r="8.5" fill="#ff0000"/>
<circle cx="1453.2" cy="567.7" r="8.5" fill="#ff0000"/>
<circle cx="1456.2" cy="569.4" r="8.5" fill="#ff0000"/>
<circle cx="1459.3" cy="571.0" r="8.5" fill="#ff0000"/>
<circle cx="1462.3" cy="572.7" r="8.5" fill="#ff0000"/>
<circle cx="1465.0" cy="570.3" r="8.5" fill="#ff0000"/>
<circle cx="1467.8" cy="567.9" r="8.5" fill="#ff0000"/>
<circle cx="1470.5" cy="565.4" r="8.5" fill="#ff0000"/>
<circle cx="1473.3" cy="563.0" r="8.5" fill="#ff0000"/>
<circle cx="1477.2" cy="564.5" r="8.5" fill="#ff0000"/>
<circle cx="1481.0" cy="566.0" r="8.5" fill="#ff0000"/>
<circle cx="1462.3" cy="572.7" r="8.5" fill="#ff0000"/>
<circle cx="1464.0" cy="575.5" r="8.5" fill="#ff0000"/>
<circle cx="1465.7" cy="578.2" r="8.5" fill="#ff0000"/>
<circle cx="1467.3" cy="581.0" r="8.5" fill="#ff0000"/>
<circle cx="1469.0" cy="583.7" r="8.5" fill="#ff0000"/>
<circle cx="1472.7" cy="585.1" r="8.5" fill="#ff0000"/>
<circle cx="1476.3" cy="586.6" r="8.5" fill="#ff0000"/>
<circle cx="1480.0" cy="588.0" r="8.5" fill="#ff0000"/>
<circle cx="1481.4" cy="591.0" r="8.5" fill="#ff0000"/>
<circle cx="1482.9" cy="594.0" r="8.5" fill="#ff0000"/>
<circle cx="1484.3" cy="597.0" r="8.5" fill="#ff0000"/>
<circle cx="1487.6" cy="599.2" r="8.5" fill="#ff0000"/>
<circle cx="1490.9" cy="601.3" r="8.5" fill="#ff0000"/>
<circle cx="1494.2" cy="603.5" r="8.5" fill="#ff0000"/>
<circle cx="1497.8" cy="604.6" r="8.5" fill="#ff0000"/>
<circle cx="1501.3" cy="605.8" r="8.5" fill="#ff0000"/>
<circle cx="1504.9" cy="606.9" r="8.5" fill="#ff0000"/>
<circle cx="1508.5" cy="608.0" r="8.5" fill="#ff0000"/>
<circle cx="1510.7" cy="586.0" r="8.5" fill="#ff0000"/>
<circle cx="1514.0" cy="585.2" r="8.5" fill="#ff0000"/>
<circle cx="1517.2" cy="584.5" r="8.5" fill="#ff0000"/>
<circle cx="1520.5" cy="583.7" r="8.5" fill="#ff0000"/>
<circle cx="1521.2" cy="587.0" r="8.5" fill="#ff0000"/>
<circle cx="1521.9" cy="590.2" r="8.5" fill="#ff0000"/>
<circle cx="1522.6" cy="593.5" r="8.5" fill="#ff0000"/>
<circle cx="1523.3" cy="596.7" r="8.5" fill="#ff0000"/>
<circle cx="1524.0" cy="600.0" r="8.5" fill="#ff0000"/>
<circle cx="1524.0" cy="603.4" r="8.5" fill="#ff0000"/>
<circle cx="1524.0" cy="606.7" r="8.5" fill="#ff0000"/>
<circle cx="1524.0" cy="610.0" r="8.5" fill="#ff0000"/>
<circle cx="1524.0" cy="613.4" r="8.5" fill="#ff0000"/>
<circle cx="1527.8" cy="614.0" r="8.5" fill="#ff0000"/>
<circle cx="1531.5" cy="614.5" r="8.5" fill="#ff0000"/>
<circle cx="1508.5" cy="608.0" r="8.5" fill="#ff0000"/>
<circle cx="1509.4" cy="605.0" r="8.5" fill="#ff0000"/>
<circle cx="1510.2" cy="602.0" r="8.5" fill="#ff0000"/>
<circle cx="1511.1" cy="599.0" r="8.5" fill="#ff0000"/>
<circle cx="1512.0" cy="596.0" r="8.5" fill="#ff0000"/>
<circle cx="1511.6" cy="592.7" r="8.5" fill="#ff0000"/>
<circle cx="1511.1" cy="589.3" r="8.5" fill="#ff0000"/>
<circle cx="1510.7" cy="586.0" r="8.5" fill="#ff0000"/>
<circle cx="1524.0" cy="600.0" r="8.5" fill="#ff0000"/>
<circle cx="1526.7" cy="598.7" r="8.5" fill="#ff0000"/>
<circle cx="1529.4" cy="597.4" r="8.5" fill="#ff0000"/>
<circle cx="1532.1" cy="596.0" r="8.5" fill="#ff0000"/>
<circle cx="1534.8" cy="594.7" r="8.5" fill="#ff0000"/>
<circle cx="1538.5" cy="596.1" r="8.5" fill="#ff0000"/>
<circle cx="1542.1" cy="597.6" r="8.5" fill="#ff0000"/>
<circle cx="1545.8" cy="599.0" r="8.5" fill="#ff0000"/>
<circle cx="1548.7" cy="601.2" r="8.5" fill="#ff0000"/>
<circle cx="1551.7" cy="603.5" r="8.5" fill="#ff0000"/>
<circle cx="1554.6" cy="605.7" r="8.5" fill="#ff0000"/>
<circle cx="1555.0" cy="609.0" r="8.5" fill="#ff0000"/>
<circle cx="1555.3" cy="612.3" r="8.5" fill="#ff0000"/>
<circle cx="1555.7" cy="615.6" r="8.5" fill="#ff0000"/>
<circle cx="1556.0" cy="619.2" r="8.5" fill="#ff0000"/>
<circle cx="1556.2" cy="622.8" r="8.5" fill="#ff0000"/>
<circle cx="1556.5" cy="626.4" r="8.5" fill="#ff0000"/>
<circle cx="1556.8" cy="630.0" r="8.5" fill="#ff0000"/>
<circle cx="1560.1" cy="631.1" r="8.5" fill="#ff0000"/>
<circle cx="1563.4" cy="632.1" r="8.5" fill="#ff0000"/>
<circle cx="1566.7" cy="633.2" r="8.5" fill="#ff0000"/>
<polyline points="1567.8,641.0 1569.0,657.4" fill="none" stroke="#ff0000" stroke-width="4" stroke-linejoin="round" stroke-linecap="round"/>
<circle cx="1567.0" cy="667.0" r="8.5" fill="#ff0000"/>
<circle cx="1569.8" cy="669.0" r="8.5" fill="#ff0000"/>
<circle cx="1572.5" cy="671.0" r="8.5" fill="#ff0000"/>
<circle cx="1575.3" cy="673.0" r="8.5" fill="#ff0000"/>
<circle cx="1578.1" cy="675.0" r="8.5" fill="#ff0000"/>
<circle cx="1580.8" cy="677.0" r="8.5" fill="#ff0000"/>
<circle cx="1583.6" cy="679.0" r="8.5" fill="#ff0000"/>
<circle cx="1586.5" cy="677.8" r="8.5" fill="#ff0000"/>
<circle cx="1589.5" cy="676.5" r="8.5" fill="#ff0000"/>
<circle cx="1592.5" cy="675.2" r="8.5" fill="#ff0000"/>
<circle cx="1595.4" cy="674.0" r="8.5" fill="#ff0000"/>
<circle cx="1597.3" cy="676.4" r="8.5" fill="#ff0000"/>
<circle cx="1599.2" cy="678.8" r="8.5" fill="#ff0000"/>
<circle cx="1601.0" cy="681.2" r="8.5" fill="#ff0000"/>
<circle cx="1602.9" cy="683.6" r="8.5" fill="#ff0000"/>
<circle cx="1604.8" cy="686.0" r="8.5" fill="#ff0000"/>
<circle cx="1570.0" cy="675.0" r="8.5" fill="#ff0000"/>
<circle cx="1573.0" cy="676.8" r="8.5" fill="#ff0000"/>
<circle cx="1576.0" cy="678.6" r="8.5" fill="#ff0000"/>
<circle cx="1579.0" cy="680.4" r="8.5" fill="#ff0000"/>
<circle cx="1582.0" cy="682.2" r="8.5" fill="#ff0000"/>
<circle cx="1585.0" cy="684.0" r="8.5" fill="#ff0000"/>
<circle cx="1588.0" cy="684.8" r="8.5" fill="#ff0000"/>
<circle cx="1591.0" cy="685.6" r="8.5" fill="#ff0000"/>
<circle cx="1594.0" cy="686.4" r="8.5" fill="#ff0000"/>
<circle cx="1597.0" cy="687.2" r="8.5" fill="#ff0000"/>
<circle cx="1600.0" cy="688.0" r="8.5" fill="#ff0000"/>
<circle cx="1607.0" cy="622.4" r="8.5" fill="#ff0000"/>
<circle cx="1610.5" cy="623.5" r="8.5" fill="#ff0000"/>
<circle cx="1614.0" cy="624.7" r="8.5" fill="#ff0000"/>
<circle cx="1617.5" cy="625.9" r="8.5" fill="#ff0000"/>
<circle cx="1621.0" cy="627.0" r="8.5" fill="#ff0000"/>
<circle cx="1624.2" cy="629.3" r="8.5" fill="#ff0000"/>
<circle cx="1627.5" cy="631.7" r="8.5" fill="#ff0000"/>
<circle cx="1630.7" cy="634.0" r="8.5" fill="#ff0000"/>
<circle cx="1607.0" cy="662.4" r="8.5" fill="#ff0000"/>
<polyline points="1608.0,636.0 1608.0,653.0" fill="none" stroke="#ff0000" stroke-width="4" stroke-linejoin="round" stroke-linecap="round"/>
<polyline points="1630.7,646.0 1630.7,665.0" fill="none" stroke="#ff0000" stroke-width="4" stroke-linejoin="round" stroke-linecap="round"/>
<circle cx="1630.7" cy="674.0" r="8.5" fill="#ff0000"/>
<circle cx="1631.2" cy="677.3" r="8.5" fill="#ff0000"/>
<circle cx="1631.6" cy="680.7" r="8.5" fill="#ff0000"/>
<circle cx="1632.1" cy="684.0" r="8.5" fill="#ff0000"/>
<circle cx="1632.5" cy="687.4" r="8.5" fill="#ff0000"/>
<circle cx="1633.0" cy="690.7" r="8.5" fill="#ff0000"/>
<circle cx="1636.2" cy="689.8" r="8.5" fill="#ff0000"/>
<circle cx="1639.3" cy="688.9" r="8.5" fill="#ff0000"/>
<circle cx="1642.5" cy="688.0" r="8.5" fill="#ff0000"/>
<circle cx="1645.4" cy="688.9" r="8.5" fill="#ff0000"/>
<circle cx="1648.4" cy="689.9" r="8.5" fill="#ff0000"/>
<circle cx="1651.3" cy="690.8" r="8.5" fill="#ff0000"/>
<circle cx="1654.2" cy="691.7" r="8.5" fill="#ff0000"/>
<circle cx="1657.2" cy="692.6" r="8.5" fill="#ff0000"/>
<circle cx="1660.1" cy="693.5" r="8.5" fill="#ff0000"/>
<circle cx="1663.1" cy="694.5" r="8.5" fill="#ff0000"/>
<circle cx="1666.0" cy="695.4" r="8.5" fill="#ff0000"/>
<circle cx="1669.4" cy="695.7" r="8.5" fill="#ff0000"/>
<circle cx="1672.7" cy="696.1" r="8.5" fill="#ff0000"/>
<circle cx="1676.1" cy="696.4" r="8.5" fill="#ff0000"/>
<circle cx="1679.5" cy="696.7" r="8.5" fill="#ff0000"/>
<circle cx="1682.9" cy="697.0" r="8.5" fill="#ff0000"/>
<circle cx="1686.2" cy="697.4" r="8.5" fill="#ff0000"/>
<circle cx="1689.6" cy="697.7" r="8.5" fill="#ff0000"/>
<circle cx="1692.9" cy="697.4" r="8.5" fill="#ff0000"/>
<circle cx="1696.3" cy="697.0" r="8.5" fill="#ff0000"/>
<circle cx="1699.6" cy="696.7" r="8.5" fill="#ff0000"/>
<circle cx="1703.0" cy="696.4" r="8.5" fill="#ff0000"/>
<circle cx="1706.3" cy="696.1" r="8.5" fill="#ff0000"/>
<circle cx="1709.7" cy="695.7" r="8.5" fill="#ff0000"/>
<circle cx="1713.0" cy="695.4" r="8.5" fill="#ff0000"/>
<circle cx="1716.0" cy="696.0" r="8.5" fill="#ff0000"/>
<circle cx="1718.9" cy="696.5" r="8.5" fill="#ff0000"/>
<circle cx="1721.8" cy="697.1" r="8.5" fill="#ff0000"/>
<circle cx="1724.8" cy="697.7" r="8.5" fill="#ff0000"/>
<circle cx="1727.8" cy="698.3" r="8.5" fill="#ff0000"/>
<circle cx="1730.7" cy="698.9" r="8.5" fill="#ff0000"/>
<circle cx="1733.6" cy="699.4" r="8.5" fill="#ff0000"/>
<circle cx="1736.6" cy="700.0" r="8.5" fill="#ff0000"/>
<circle cx="1740.1" cy="701.2" r="8.5" fill="#ff0000"/>
<circle cx="1743.7" cy="702.4" r="8.5" fill="#ff0000"/>
<circle cx="1747.2" cy="703.6" r="8.5" fill="#ff0000"/>
<circle cx="1750.8" cy="704.8" r="8.5" fill="#ff0000"/>
<circle cx="1752.3" cy="702.0" r="8.5" fill="#ff0000"/>
<circle cx="1753.9" cy="699.3" r="8.5" fill="#ff0000"/>
<circle cx="1755.4" cy="696.5" r="8.5" fill="#ff0000"/>
<circle cx="1756.9" cy="693.8" r="8.5" fill="#ff0000"/>
<circle cx="1758.5" cy="691.0" r="8.5" fill="#ff0000"/>
<circle cx="1760.0" cy="688.3" r="8.5" fill="#ff0000"/>
<circle cx="1763.2" cy="687.5" r="8.5" fill="#ff0000"/>
<circle cx="1766.4" cy="686.8" r="8.5" fill="#ff0000"/>
<circle cx="1769.6" cy="686.0" r="8.5" fill="#ff0000"/>
<circle cx="1772.0" cy="689.1" r="8.5" fill="#ff0000"/>
<circle cx="1774.3" cy="692.3" r="8.5" fill="#ff0000"/>
<circle cx="1776.7" cy="695.4" r="8.5" fill="#ff0000"/>
<circle cx="1640.0" cy="683.0" r="8.5" fill="#ff0000"/>
<circle cx="1643.2" cy="683.9" r="8.5" fill="#ff0000"/>
<circle cx="1646.5" cy="684.8" r="8.5" fill="#ff0000"/>
<circle cx="1649.8" cy="685.6" r="8.5" fill="#ff0000"/>
<circle cx="1653.0" cy="686.5" r="8.5" fill="#ff0000"/>
<circle cx="1656.2" cy="687.4" r="8.5" fill="#ff0000"/>
<circle cx="1659.5" cy="688.2" r="8.5" fill="#ff0000"/>
<circle cx="1662.8" cy="689.1" r="8.5" fill="#ff0000"/>
<circle cx="1666.0" cy="690.0" r="8.5" fill="#ff0000"/>
<circle cx="1669.0" cy="690.2" r="8.5" fill="#ff0000"/>
<circle cx="1672.0" cy="690.5" r="8.5" fill="#ff0000"/>
<circle cx="1675.0" cy="690.8" r="8.5" fill="#ff0000"/>
<circle cx="1678.0" cy="691.0" r="8.5" fill="#ff0000"/>
<circle cx="1681.0" cy="691.2" r="8.5" fill="#ff0000"/>
<circle cx="1684.0" cy="691.5" r="8.5" fill="#ff0000"/>
<circle cx="1687.0" cy="691.8" r="8.5" fill="#ff0000"/>
<circle cx="1690.0" cy="692.0" r="8.5" fill="#ff0000"/>
<circle cx="1693.0" cy="691.8" r="8.5" fill="#ff0000"/>
<circle cx="1696.0" cy="691.6" r="8.5" fill="#ff0000"/>
<circle cx="1699.0" cy="691.4" r="8.5" fill="#ff0000"/>
<circle cx="1702.0" cy="691.2" r="8.5" fill="#ff0000"/>
<circle cx="1705.0" cy="691.0" r="8.5" fill="#ff0000"/>
<circle cx="1708.0" cy="690.8" r="8.5" fill="#ff0000"/>
<circle cx="1711.0" cy="690.6" r="8.5" fill="#ff0000"/>
<circle cx="1714.0" cy="690.4" r="8.5" fill="#ff0000"/>
<circle cx="1717.0" cy="690.2" r="8.5" fill="#ff0000"/>
<circle cx="1720.0" cy="690.0" r="8.5" fill="#ff0000"/>
<circle cx="1723.0" cy="690.4" r="8.5" fill="#ff0000"/>
<circle cx="1726.0" cy="690.8" r="8.5" fill="#ff0000"/>
<circle cx="1729.0" cy="691.2" r="8.5" fill="#ff0000"/>
<circle cx="1732.0" cy="691.6" r="8.5" fill="#ff0000"/>
<circle cx="1735.0" cy="692.0" r="8.5" fill="#ff0000"/>
<circle cx="1738.0" cy="692.4" r="8.5" fill="#ff0000"/>
<circle cx="1741.0" cy="692.8" r="8.5" fill="#ff0000"/>
<circle cx="1744.0" cy="693.2" r="8.5" fill="#ff0000"/>
<circle cx="1747.0" cy="693.6" r="8.5" fill="#ff0000"/>
<circle cx="1750.0" cy="694.0" r="8.5" fill="#ff0000"/>
<circle cx="1753.0" cy="693.6" r="8.5" fill="#ff0000"/>
<circle cx="1756.0" cy="693.2" r="8.5" fill="#ff0000"/>
<circle cx="1759.0" cy="692.8" r="8.5" fill="#ff0000"/>
<circle cx="1762.0" cy="692.4" r="8.5" fill="#ff0000"/>
<circle cx="1765.0" cy="692.0" r="8.5" fill="#ff0000"/>
<circle cx="1376.6" cy="630.0" r="8.5" fill="#ff0000"/>
<circle cx="1376.6" cy="633.1" r="8.5" fill="#ff0000"/>
<circle cx="1376.6" cy="636.3" r="8.5" fill="#ff0000"/>
<circle cx="1376.6" cy="639.4" r="8.5" fill="#ff0000"/>
<circle cx="1376.6" cy="642.6" r="8.5" fill="#ff0000"/>
<circle cx="1376.6" cy="645.7" r="8.5" fill="#ff0000"/>
<circle cx="1376.6" cy="648.9" r="8.5" fill="#ff0000"/>
<circle cx="1376.6" cy="652.0" r="8.5" fill="#ff0000"/>
<circle cx="966.0" cy="590.0" r="8.5" fill="#ff0000"/>
<circle cx="969.2" cy="590.8" r="8.5" fill="#ff0000"/>
<circle cx="972.3" cy="591.7" r="8.5" fill="#ff0000"/>
<circle cx="975.5" cy="592.5" r="8.5" fill="#ff0000"/>
<circle cx="978.7" cy="593.3" r="8.5" fill="#ff0000"/>
<circle cx="981.8" cy="594.2" r="8.5" fill="#ff0000"/>
<circle cx="985.0" cy="595.0" r="8.5" fill="#ff0000"/>
<circle cx="988.0" cy="596.0" r="8.5" fill="#ff0000"/>
<circle cx="991.0" cy="597.0" r="8.5" fill="#ff0000"/>
<circle cx="994.0" cy="598.0" r="8.5" fill="#ff0000"/>
<circle cx="997.0" cy="599.0" r="8.5" fill="#ff0000"/>
<circle cx="1000.0" cy="600.0" r="8.5" fill="#ff0000"/>
<circle cx="966.0" cy="605.0" r="8.5" fill="#ff0000"/>
<circle cx="969.0" cy="606.2" r="8.5" fill="#ff0000"/>
<circle cx="972.0" cy="607.5" r="8.5" fill="#ff0000"/>
<circle cx="975.0" cy="608.8" r="8.5" fill="#ff0000"/>
<circle cx="978.0" cy="610.0" r="8.5" fill="#ff0000"/>
<circle cx="981.0" cy="611.2" r="8.5" fill="#ff0000"/>
<circle cx="984.0" cy="612.5" r="8.5" fill="#ff0000"/>
<circle cx="987.0" cy="613.8" r="8.5" fill="#ff0000"/>
<circle cx="990.0" cy="615.0" r="8.5" fill="#ff0000"/>
<circle cx="992.9" cy="616.4" r="8.5" fill="#ff0000"/>
<circle cx="995.7" cy="617.9" r="8.5" fill="#ff0000"/>
<circle cx="998.6" cy="619.3" r="8.5" fill="#ff0000"/>
<circle cx="1001.4" cy="620.7" r="8.5" fill="#ff0000"/>
<circle cx="1004.3" cy="622.1" r="8.5" fill="#ff0000"/>
<circle cx="1007.1" cy="623.6" r="8.5" fill="#ff0000"/>
<circle cx="1010.0" cy="625.0" r="8.5" fill="#ff0000"/>
<circle cx="1012.6" cy="627.1" r="8.5" fill="#ff0000"/>
<circle cx="1015.1" cy="629.3" r="8.5" fill="#ff0000"/>
<circle cx="1017.7" cy="631.4" r="8.5" fill="#ff0000"/>
<circle cx="1020.3" cy="633.6" r="8.5" fill="#ff0000"/>
<circle cx="1022.9" cy="635.7" r="8.5" fill="#ff0000"/>
<circle cx="1025.4" cy="637.9" r="8.5" fill="#ff0000"/>
<circle cx="1028.0" cy="640.0" r="8.5" fill="#ff0000"/>
<circle cx="995.0" cy="640.0" r="8.5" fill="#ff0000"/>
<circle cx="998.0" cy="641.6" r="8.5" fill="#ff0000"/>
<circle cx="1001.0" cy="643.2" r="8.5" fill="#ff0000"/>
<circle cx="1004.0" cy="644.8" r="8.5" fill="#ff0000"/>
<circle cx="1007.0" cy="646.4" r="8.5" fill="#ff0000"/>
<circle cx="1010.0" cy="648.0" r="8.5" fill="#ff0000"/>
<circle cx="1013.2" cy="648.4" r="8.5" fill="#ff0000"/>
<circle cx="1016.4" cy="648.8" r="8.5" fill="#ff0000"/>
<circle cx="1019.6" cy="649.2" r="8.5" fill="#ff0000"/>
<circle cx="1022.8" cy="649.6" r="8.5" fill="#ff0000"/>
<circle cx="1026.0" cy="650.0" r="8.5" fill="#ff0000"/>
<circle cx="925.0" cy="650.0" r="8.5" fill="#ff0000"/>
<circle cx="928.1" cy="651.2" r="8.5" fill="#ff0000"/>
<circle cx="931.2" cy="652.5" r="8.5" fill="#ff0000"/>
<circle cx="934.4" cy="653.8" r="8.5" fill="#ff0000"/>
<circle cx="937.5" cy="655.0" r="8.5" fill="#ff0000"/>
<circle cx="940.6" cy="656.2" r="8.5" fill="#ff0000"/>
<circle cx="943.8" cy="657.5" r="8.5" fill="#ff0000"/>
<circle cx="946.9" cy="658.8" r="8.5" fill="#ff0000"/>
<circle cx="950.0" cy="660.0" r="8.5" fill="#ff0000"/>
<circle cx="949.0" cy="663.0" r="8.5" fill="#ff0000"/>
<circle cx="948.0" cy="666.0" r="8.5" fill="#ff0000"/>
<circle cx="947.0" cy="669.0" r="8.5" fill="#ff0000"/>
<circle cx="946.0" cy="672.0" r="8.5" fill="#ff0000"/>
<circle cx="945.0" cy="675.0" r="8.5" fill="#ff0000"/>
<circle cx="1070.0" cy="512.0" r="8.5" fill="#ff0000"/>
<circle cx="1073.0" cy="512.0" r="8.5" fill="#ff0000"/>
<circle cx="1076.0" cy="512.0" r="8.5" fill="#ff0000"/>
<circle cx="1079.0" cy="512.0" r="8.5" fill="#ff0000"/>
<circle cx="1082.0" cy="512.0" r="8.5" fill="#ff0000"/>
<circle cx="1085.0" cy="512.0" r="8.5" fill="#ff0000"/>
<circle cx="1088.0" cy="512.0" r="8.5" fill="#ff0000"/>
<circle cx="1091.0" cy="512.0" r="8.5" fill="#ff0000"/>
<circle cx="1094.0" cy="512.0" r="8.5" fill="#ff0000"/>
<circle cx="1097.0" cy="512.0" r="8.5" fill="#ff0000"/>
<circle cx="1100.0" cy="512.0" r="8.5" fill="#ff0000"/>
<circle cx="1070.0" cy="528.0" r="8.5" fill="#ff0000"/>
<circle cx="1073.0" cy="528.0" r="8.5" fill="#ff0000"/>
<circle cx="1076.0" cy="528.0" r="8.5" fill="#ff0000"/>
<circle cx="1079.0" cy="528.0" r="8.5" fill="#ff0000"/>
<circle cx="1082.0" cy="528.0" r="8.5" fill="#ff0000"/>
<circle cx="1085.0" cy="528.0" r="8.5" fill="#ff0000"/>
<circle cx="1088.0" cy="528.0" r="8.5" fill="#ff0000"/>
<circle cx="1091.0" cy="528.0" r="8.5" fill="#ff0000"/>
<circle cx="1094.0" cy="528.0" r="8.5" fill="#ff0000"/>
<circle cx="1097.0" cy="528.0" r="8.5" fill="#ff0000"/>
<circle cx="1100.0" cy="528.0" r="8.5" fill="#ff0000"/>
<circle cx="1070.0" cy="545.0" r="8.5" fill="#ff0000"/>
<circle cx="1073.0" cy="545.0" r="8.5" fill="#ff0000"/>
<circle cx="1076.0" cy="545.0" r="8.5" fill="#ff0000"/>
<circle cx="1079.0" cy="545.0" r="8.5" fill="#ff0000"/>
<circle cx="1082.0" cy="545.0" r="8.5" fill="#ff0000"/>
<circle cx="1085.0" cy="545.0" r="8.5" fill="#ff0000"/>
<circle cx="1088.0" cy="545.0" r="8.5" fill="#ff0000"/>
<circle cx="1091.0" cy="545.0" r="8.5" fill="#ff0000"/>
<circle cx="1094.0" cy="545.0" r="8.5" fill="#ff0000"/>
<circle cx="1097.0" cy="545.0" r="8.5" fill="#ff0000"/>
<circle cx="1100.0" cy="545.0" r="8.5" fill="#ff0000"/>
<circle cx="971.5" cy="592.0" r="8.5" fill="#ff0000"/>
<circle cx="978.0" cy="612.0" r="8.5" fill="#ff0000"/>
<circle cx="998.0" cy="599.0" r="8.5" fill="#ff0000"/>
<circle cx="1004.5" cy="618.5" r="8.5" fill="#ff0000"/>
<circle cx="1011.0" cy="635.0" r="8.5" fill="#ff0000"/>
<circle cx="1006.0" cy="648.0" r="8.5" fill="#ff0000"/>
<circle cx="1024.0" cy="635.0" r="8.5" fill="#ff0000"/>
<circle cx="960.0" cy="622.0" r="8.5" fill="#ff0000"/>
<circle cx="985.0" cy="605.0" r="8.5" fill="#ff0000"/>
<circle cx="992.0" cy="625.0" r="8.5" fill="#ff0000"/>
<circle cx="1000.0" cy="640.0" r="8.5" fill="#ff0000"/>
<circle cx="1015.0" cy="625.0" r="8.5" fill="#ff0000"/>
<circle cx="975.0" cy="600.0" r="8.5" fill="#ff0000"/>
<circle cx="988.0" cy="616.0" r="8.5" fill="#ff0000"/>
<polygon points="214.0,378.0 225.4,367.0 239.0,383.0 258.0,402.0 273.7,417.0 287.5,398.5 304.8,367.4 318.6,343.2 332.4,323.4 342.8,312.2 356.6,297.3 367.0,308.5 386.0,294.7 398.0,281.0 410.0,275.0 420.5,270.5 439.4,274.0 451.5,279.2 460.2,289.7 460.2,296.6 439.4,296.6 422.2,298.3 406.6,298.3 401.5,319.0 384.2,333.0 361.8,336.3 353.0,353.6 339.3,357.0 325.5,371.0 313.4,395.0 299.6,415.7 292.7,422.7 289.2,438.2 291.0,459.0 268.5,459.0 266.8,440.0 246.0,415.7 225.4,396.8 214.0,383.0" fill="#00ff00" />
<polygon points="239.0,383.0 250.0,402.0 228.0,402.0" fill="#00ff00"/>
<polygon points="245.3,387.7 256.3,406.7 234.3,406.7" fill="#00ff00"/>
<polygon points="251.7,392.3 262.7,411.3 240.7,411.3" fill="#00ff00"/>
<polygon points="258.0,397.0 269.0,416.0 247.0,416.0" fill="#00ff00"/>
<polygon points="263.2,402.0 274.2,421.0 252.2,421.0" fill="#00ff00"/>
<polygon points="268.5,407.0 279.5,426.0 257.5,426.0" fill="#00ff00"/>
<polygon points="273.7,412.0 284.7,431.0 262.7,431.0" fill="#00ff00"/>
<polygon points="280.6,405.2 291.6,424.2 269.6,424.2" fill="#00ff00"/>
<polygon points="367.0,303.5 378.0,322.5 356.0,322.5" fill="#00ff00"/>
<polygon points="373.3,298.9 384.3,317.9 362.3,317.9" fill="#00ff00"/>
<polygon points="379.7,294.3 390.7,313.3 368.7,313.3" fill="#00ff00"/>
<polygon points="398.0,276.0 409.0,295.0 387.0,295.0" fill="#00ff00"/>
<polygon points="410.0,270.0 421.0,289.0 399.0,289.0" fill="#00ff00"/>
<polygon points="420.5,265.5 431.5,284.5 409.5,284.5" fill="#00ff00"/>
<polygon points="429.9,267.2 440.9,286.2 418.9,286.2" fill="#00ff00"/>
<polygon points="439.4,269.0 450.4,288.0 428.4,288.0" fill="#00ff00"/>
<polygon points="342.0,352.5 353.0,371.5 331.0,371.5" fill="#00ff00"/>
<polygon points="339.3,368.5 350.3,387.5 328.3,387.5" fill="#00ff00"/>
<polygon points="338.4,380.5 349.4,399.5 327.4,399.5" fill="#00ff00"/>
<polygon points="338.4,395.9 349.4,414.9 327.4,414.9" fill="#00ff00"/>
<polygon points="280.0,438.5 291.0,457.5 269.0,457.5" fill="#00ff00"/>
<polygon points="287.0,436.5 298.0,455.5 276.0,455.5" fill="#00ff00"/>
<polygon points="450.0,279.5 461.0,298.5 439.0,298.5" fill="#00ff00"/>
<polyline points="451.0,270.0 451.0,321.0" fill="none" stroke="#00ff00" stroke-width="1.5" stroke-linejoin="round" stroke-linecap="round"/>
<polygon points="451.0,311.5 462.0,330.5 440.0,330.5" fill="#00ff00"/>
<polyline points="451.0,321.0 452.0,246.0" fill="none" stroke="#00ff00" stroke-width="1.5" stroke-linejoin="round" stroke-linecap="round"/>
<polygon points="452.0,236.5 463.0,255.5 441.0,255.5" fill="#00ff00"/>
<polygon points="452.0,220.5 463.0,239.5 441.0,239.5" fill="#00ff00"/>
<polygon points="443.0,223.0 453.0,190.0 469.0,173.0 483.0,166.0 492.0,173.0 498.0,165.0 507.0,180.0 518.0,175.0 536.0,177.0 572.0,165.0 593.0,163.0 637.0,164.0 660.0,166.0 696.0,170.0 731.0,161.0 743.0,151.0 768.0,148.0 776.0,150.0 797.0,175.0 797.0,193.0 780.0,193.0 765.0,175.0 749.0,176.0 731.0,181.0 705.0,186.0 660.0,184.0 607.0,184.0 572.0,183.0 550.0,195.0 527.0,195.0 520.0,222.0 503.0,225.0 480.0,225.0 472.0,199.0 464.0,223.0 445.0,240.0" fill="#00ff00" />
<polygon points="469.0,168.0 480.0,187.0 458.0,187.0" fill="#00ff00"/>
<polygon points="476.0,164.5 487.0,183.5 465.0,183.5" fill="#00ff00"/>
<polygon points="483.0,161.0 494.0,180.0 472.0,180.0" fill="#00ff00"/>
<polygon points="507.0,175.0 518.0,194.0 496.0,194.0" fill="#00ff00"/>
<polygon points="518.0,170.0 529.0,189.0 507.0,189.0" fill="#00ff00"/>
<polygon points="527.0,171.0 538.0,190.0 516.0,190.0" fill="#00ff00"/>
<polygon points="536.0,172.0 547.0,191.0 525.0,191.0" fill="#00ff00"/>
<polygon points="543.2,169.6 554.2,188.6 532.2,188.6" fill="#00ff00"/>
<polygon points="550.4,167.2 561.4,186.2 539.4,186.2" fill="#00ff00"/>
<polygon points="557.6,164.8 568.6,183.8 546.6,183.8" fill="#00ff00"/>
<polygon points="564.8,162.4 575.8,181.4 553.8,181.4" fill="#00ff00"/>
<polygon points="572.0,160.0 583.0,179.0 561.0,179.0" fill="#00ff00"/>
<polygon points="579.0,159.3 590.0,178.3 568.0,178.3" fill="#00ff00"/>
<polygon points="586.0,158.7 597.0,177.7 575.0,177.7" fill="#00ff00"/>
<polygon points="593.0,158.0 604.0,177.0 582.0,177.0" fill="#00ff00"/>
<polygon points="600.3,158.2 611.3,177.2 589.3,177.2" fill="#00ff00"/>
<polygon points="607.7,158.3 618.7,177.3 596.7,177.3" fill="#00ff00"/>
<polygon points="615.0,158.5 626.0,177.5 604.0,177.5" fill="#00ff00"/>
<polygon points="622.3,158.7 633.3,177.7 611.3,177.7" fill="#00ff00"/>
<polygon points="629.7,158.8 640.7,177.8 618.7,177.8" fill="#00ff00"/>
<polygon points="637.0,159.0 648.0,178.0 626.0,178.0" fill="#00ff00"/>
<polygon points="644.7,159.7 655.7,178.7 633.7,178.7" fill="#00ff00"/>
<polygon points="652.3,160.3 663.3,179.3 641.3,179.3" fill="#00ff00"/>
<polygon points="660.0,161.0 671.0,180.0 649.0,180.0" fill="#00ff00"/>
<polygon points="667.2,161.8 678.2,180.8 656.2,180.8" fill="#00ff00"/>
<polygon points="674.4,162.6 685.4,181.6 663.4,181.6" fill="#00ff00"/>
<polygon points="681.6,163.4 692.6,182.4 670.6,182.4" fill="#00ff00"/>
<polygon points="688.8,164.2 699.8,183.2 677.8,183.2" fill="#00ff00"/>
<polygon points="696.0,165.0 707.0,184.0 685.0,184.0" fill="#00ff00"/>
<polygon points="703.0,163.2 714.0,182.2 692.0,182.2" fill="#00ff00"/>
<polygon points="710.0,161.4 721.0,180.4 699.0,180.4" fill="#00ff00"/>
<polygon points="717.0,159.6 728.0,178.6 706.0,178.6" fill="#00ff00"/>
<polygon points="724.0,157.8 735.0,176.8 713.0,176.8" fill="#00ff00"/>
<polygon points="731.0,156.0 742.0,175.0 720.0,175.0" fill="#00ff00"/>
<polygon points="737.0,151.0 748.0,170.0 726.0,170.0" fill="#00ff00"/>
<polygon points="743.0,146.0 754.0,165.0 732.0,165.0" fill="#00ff00"/>
<polygon points="751.3,145.0 762.3,164.0 740.3,164.0" fill="#00ff00"/>
<polygon points="759.7,144.0 770.7,163.0 748.7,163.0" fill="#00ff00"/>
<polygon points="768.0,143.0 779.0,162.0 757.0,162.0" fill="#00ff00"/>
<polygon points="788.0,122.5 799.0,141.5 777.0,141.5" fill="#00ff00"/>
<polyline points="788.0,142.0 788.0,240.0" fill="none" stroke="#00ff00" stroke-width="1.5" stroke-linejoin="round" stroke-linecap="round"/>
<polyline points="789.5,240.0 789.5,444.0" fill="none" stroke="#00ff00" stroke-width="1.5" stroke-linejoin="round" stroke-linecap="round"/>
<polygon points="792.0,222.5 803.0,241.5 781.0,241.5" fill="#00ff00"/>
<polygon points="792.0,240.5 803.0,259.5 781.0,259.5" fill="#00ff00"/>
<polygon points="792.0,255.5 803.0,274.5 781.0,274.5" fill="#00ff00"/>
<polygon points="792.0,262.5 803.0,281.5 781.0,281.5" fill="#00ff00"/>
<polygon points="789.7,325.5 800.7,344.5 778.7,344.5" fill="#00ff00"/>
<polygon points="788.0,358.5 799.0,377.5 777.0,377.5" fill="#00ff00"/>
<polygon points="789.7,434.5 800.7,453.5 778.7,453.5" fill="#00ff00"/>
<polygon points="782.0,232.0 790.0,200.0 805.0,187.0 819.0,198.0 842.0,218.0 879.0,241.0 907.0,282.0 935.0,325.0 952.0,335.0 975.0,378.0 997.0,404.0 1020.0,427.0 1045.0,457.0 1068.0,478.0 1084.0,504.0 1096.0,515.0 1110.0,540.0 1120.0,552.0 1146.7,583.8 1173.4,605.0 1200.0,626.5 1226.8,648.0 1248.0,653.0 1269.5,634.5 1280.0,640.0 1280.0,664.0 1258.0,668.0 1232.0,669.6 1200.0,643.0 1173.4,627.0 1133.4,608.0 1104.0,573.5 1090.0,545.0 1084.0,532.0 1065.0,525.0 1045.0,496.0 1021.0,475.0 1001.0,460.0 980.0,421.0 955.0,398.0 930.0,370.0 907.0,347.0 890.0,333.0 873.0,302.0 856.0,277.0 842.0,240.0 814.0,222.0 800.0,231.0" fill="#00ff00" />
<polygon points="805.0,182.0 816.0,201.0 794.0,201.0" fill="#00ff00"/>
<polygon points="812.0,187.5 823.0,206.5 801.0,206.5" fill="#00ff00"/>
<polygon points="819.0,193.0 830.0,212.0 808.0,212.0" fill="#00ff00"/>
<polygon points="824.8,198.0 835.8,217.0 813.8,217.0" fill="#00ff00"/>
<polygon points="830.5,203.0 841.5,222.0 819.5,222.0" fill="#00ff00"/>
<polygon points="836.2,208.0 847.2,227.0 825.2,227.0" fill="#00ff00"/>
<polygon points="842.0,213.0 853.0,232.0 831.0,232.0" fill="#00ff00"/>
<polygon points="848.2,217.7 859.2,236.7 837.2,236.7" fill="#00ff00"/>
<polygon points="854.3,222.3 865.3,241.3 843.3,241.3" fill="#00ff00"/>
<polygon points="860.5,227.0 871.5,246.0 849.5,246.0" fill="#00ff00"/>
<polygon points="866.7,231.7 877.7,250.7 855.7,250.7" fill="#00ff00"/>
<polygon points="872.8,236.3 883.8,255.3 861.8,255.3" fill="#00ff00"/>
<polygon points="935.0,325.0 946.0,344.0 924.0,344.0" fill="#00ff00"/>
<polygon points="943.5,330.0 954.5,349.0 932.5,349.0" fill="#00ff00"/>
<polygon points="1045.0,457.0 1056.0,476.0 1034.0,476.0" fill="#00ff00"/>
<polygon points="1050.8,462.2 1061.8,481.2 1039.8,481.2" fill="#00ff00"/>
<polygon points="1056.5,467.5 1067.5,486.5 1045.5,486.5" fill="#00ff00"/>
<polygon points="1062.2,472.8 1073.2,491.8 1051.2,491.8" fill="#00ff00"/>
<polygon points="1084.0,504.0 1095.0,523.0 1073.0,523.0" fill="#00ff00"/>
<polygon points="1090.0,509.5 1101.0,528.5 1079.0,528.5" fill="#00ff00"/>
<polygon points="1146.7,578.8 1157.7,597.8 1135.7,597.8" fill="#00ff00"/>
<polygon points="1153.4,584.1 1164.4,603.1 1142.4,603.1" fill="#00ff00"/>
<polygon points="1160.1,589.4 1171.1,608.4 1149.1,608.4" fill="#00ff00"/>
<polygon points="1166.7,594.7 1177.7,613.7 1155.7,613.7" fill="#00ff00"/>
<polygon points="1173.4,600.0 1184.4,619.0 1162.4,619.0" fill="#00ff00"/>
<polygon points="1180.1,605.4 1191.1,624.4 1169.1,624.4" fill="#00ff00"/>
<polygon points="1186.7,610.8 1197.7,629.8 1175.7,629.8" fill="#00ff00"/>
<polygon points="1193.3,616.1 1204.3,635.1 1182.3,635.1" fill="#00ff00"/>
<polygon points="1200.0,621.5 1211.0,640.5 1189.0,640.5" fill="#00ff00"/>
<polygon points="1206.7,626.9 1217.7,645.9 1195.7,645.9" fill="#00ff00"/>
<polygon points="1213.4,632.2 1224.4,651.2 1202.4,651.2" fill="#00ff00"/>
<polygon points="1220.1,637.6 1231.1,656.6 1209.1,656.6" fill="#00ff00"/>
<polygon points="1226.8,643.0 1237.8,662.0 1215.8,662.0" fill="#00ff00"/>
<polygon points="1233.9,644.7 1244.9,663.7 1222.9,663.7" fill="#00ff00"/>
<polygon points="1240.9,646.3 1251.9,665.3 1229.9,665.3" fill="#00ff00"/>
<polygon points="1248.0,648.0 1259.0,667.0 1237.0,667.0" fill="#00ff00"/>
<polygon points="1253.4,643.4 1264.4,662.4 1242.4,662.4" fill="#00ff00"/>
<polygon points="1258.8,638.8 1269.8,657.8 1247.8,657.8" fill="#00ff00"/>
<polygon points="1264.1,634.1 1275.1,653.1 1253.1,653.1" fill="#00ff00"/>
<polygon points="1096.7,255.5 1107.7,274.5 1085.7,274.5" fill="#00ff00"/>
<polyline points="1096.7,274.0 1096.7,480.0" fill="none" stroke="#00ff00" stroke-width="1.5" stroke-linejoin="round" stroke-linecap="round"/>
<polygon points="1094.0,464.5 1105.0,483.5 1083.0,483.5" fill="#00ff00"/>
<polygon points="1094.0,482.5 1105.0,501.5 1083.0,501.5" fill="#00ff00"/>
<polygon points="1096.0,500.5 1107.0,519.5 1085.0,519.5" fill="#00ff00"/>
<polygon points="1098.0,512.5 1109.0,531.5 1087.0,531.5" fill="#00ff00"/>
<polygon points="1088.0,510.5 1099.0,529.5 1077.0,529.5" fill="#00ff00"/>
<polygon points="1270.0,625.5 1281.0,644.5 1259.0,644.5" fill="#00ff00"/>
<polygon points="1270.0,640.5 1281.0,659.5 1259.0,659.5" fill="#00ff00"/>
<polyline points="1272.0,542.0 1272.0,626.0" fill="none" stroke="#00ff00" stroke-width="1.5" stroke-linejoin="round" stroke-linecap="round"/>
<polygon points="1261.4,521.0 1267.7,490.7 1275.0,465.6 1287.8,435.4 1300.4,415.3 1313.0,397.7 1328.0,387.6 1335.5,385.0 1350.6,401.5 1330.5,407.7 1315.4,433.0 1313.0,455.5 1313.0,498.0 1291.6,498.0 1290.3,485.7 1284.0,521.0 1284.0,536.0 1261.4,536.0" fill="#00ff00" />
<polygon points="1328.0,382.6 1339.0,401.6 1317.0,401.6" fill="#00ff00"/>
<polygon points="1297.9,374.5 1308.9,393.5 1286.9,393.5" fill="#00ff00"/>
<polyline points="1297.9,394.0 1297.9,435.0" fill="none" stroke="#00ff00" stroke-width="1.5" stroke-linejoin="round" stroke-linecap="round"/>
<polyline points="1295.3,498.0 1295.3,960.0" fill="none" stroke="#00ff00" stroke-width="1.5" stroke-linejoin="round" stroke-linecap="round"/>
<polyline points="1298.0,498.0 1298.0,960.0" fill="none" stroke="#00ff00" stroke-width="1.5" stroke-linejoin="round" stroke-linecap="round"/>
<polygon points="1296.0,950.5 1307.0,969.5 1285.0,969.5" fill="#00ff00"/>
<polygon points="1297.0,963.5 1308.0,982.5 1286.0,982.5" fill="#00ff00"/>
<polyline points="1340.6,407.7 1340.6,465.0" fill="none" stroke="#00ff00" stroke-width="1.5" stroke-linejoin="round" stroke-linecap="round"/>
<polygon points="1342.0,460.5 1353.0,479.5 1331.0,479.5" fill="#00ff00"/>
<polygon points="1342.0,475.5 1353.0,494.5 1331.0,494.5" fill="#00ff00"/>
<polygon points="1340.0,488.5 1351.0,507.5 1329.0,507.5" fill="#00ff00"/>
<polygon points="1353.0,475.0 1359.6,474.0 1370.5,486.5 1379.3,519.5 1386.0,561.0 1390.6,600.0 1403.5,622.7 1407.0,632.0 1430.6,658.0 1440.0,658.0 1456.5,676.6 1477.7,698.0 1501.0,707.4 1524.8,714.5 1546.0,731.0 1572.0,721.6 1593.0,725.0 1619.0,747.5 1637.8,735.7 1666.0,738.0 1701.0,742.8 1736.6,749.8 1760.0,754.5 1776.7,761.6 1784.0,770.0 1783.7,770.7 1746.0,768.4 1725.0,761.3 1689.6,756.6 1642.5,759.0 1619.0,762.5 1600.0,749.5 1572.0,744.8 1548.0,754.0 1524.8,735.4 1501.0,729.5 1463.6,714.0 1437.7,683.6 1419.0,674.0 1395.3,646.0 1377.0,625.0 1372.7,607.4 1368.0,579.0 1364.0,557.0 1359.6,524.0 1353.0,502.0" fill="#00ff00" />
<polygon points="1353.0,470.0 1364.0,489.0 1342.0,489.0" fill="#00ff00"/>
<polygon points="1407.0,632.0 1418.0,651.0 1396.0,651.0" fill="#00ff00"/>
<polygon points="1412.9,637.2 1423.9,656.2 1401.9,656.2" fill="#00ff00"/>
<polygon points="1418.8,642.5 1429.8,661.5 1407.8,661.5" fill="#00ff00"/>
<polygon points="1424.7,647.8 1435.7,666.8 1413.7,666.8" fill="#00ff00"/>
<polygon points="1430.6,653.0 1441.6,672.0 1419.6,672.0" fill="#00ff00"/>
<polygon points="1456.5,676.6 1467.5,695.6 1445.5,695.6" fill="#00ff00"/>
<polygon points="1463.6,682.1 1474.6,701.1 1452.6,701.1" fill="#00ff00"/>
<polygon points="1470.6,687.5 1481.6,706.5 1459.6,706.5" fill="#00ff00"/>
<polygon points="1477.7,693.0 1488.7,712.0 1466.7,712.0" fill="#00ff00"/>
<polygon points="1485.5,696.1 1496.5,715.1 1474.5,715.1" fill="#00ff00"/>
<polygon points="1493.2,699.3 1504.2,718.3 1482.2,718.3" fill="#00ff00"/>
<polygon points="1501.0,702.4 1512.0,721.4 1490.0,721.4" fill="#00ff00"/>
<polygon points="1508.9,704.8 1519.9,723.8 1497.9,723.8" fill="#00ff00"/>
<polygon points="1516.9,707.1 1527.9,726.1 1505.9,726.1" fill="#00ff00"/>
<polygon points="1524.8,709.5 1535.8,728.5 1513.8,728.5" fill="#00ff00"/>
<polygon points="1531.9,715.0 1542.9,734.0 1520.9,734.0" fill="#00ff00"/>
<polygon points="1538.9,720.5 1549.9,739.5 1527.9,739.5" fill="#00ff00"/>
<polygon points="1546.0,726.0 1557.0,745.0 1535.0,745.0" fill="#00ff00"/>
<polygon points="1554.7,722.9 1565.7,741.9 1543.7,741.9" fill="#00ff00"/>
<polygon points="1563.3,719.7 1574.3,738.7 1552.3,738.7" fill="#00ff00"/>
<polygon points="1572.0,716.6 1583.0,735.6 1561.0,735.6" fill="#00ff00"/>
<polygon points="1579.0,717.7 1590.0,736.7 1568.0,736.7" fill="#00ff00"/>
<polygon points="1586.0,718.9 1597.0,737.9 1575.0,737.9" fill="#00ff00"/>
<polygon points="1593.0,720.0 1604.0,739.0 1582.0,739.0" fill="#00ff00"/>
<polygon points="1599.5,725.6 1610.5,744.6 1588.5,744.6" fill="#00ff00"/>
<polygon points="1606.0,731.2 1617.0,750.2 1595.0,750.2" fill="#00ff00"/>
<polygon points="1612.5,736.9 1623.5,755.9 1601.5,755.9" fill="#00ff00"/>
<polygon points="1619.0,742.5 1630.0,761.5 1608.0,761.5" fill="#00ff00"/>
<polygon points="1625.3,738.6 1636.3,757.6 1614.3,757.6" fill="#00ff00"/>
<polygon points="1631.5,734.6 1642.5,753.6 1620.5,753.6" fill="#00ff00"/>
<polygon points="1637.8,730.7 1648.8,749.7 1626.8,749.7" fill="#00ff00"/>
<polygon points="1644.8,731.3 1655.8,750.3 1633.8,750.3" fill="#00ff00"/>
<polygon points="1651.9,731.9 1662.9,750.9 1640.9,750.9" fill="#00ff00"/>
<polygon points="1659.0,732.4 1670.0,751.4 1648.0,751.4" fill="#00ff00"/>
<polygon points="1666.0,733.0 1677.0,752.0 1655.0,752.0" fill="#00ff00"/>
<polygon points="1673.0,734.0 1684.0,753.0 1662.0,753.0" fill="#00ff00"/>
<polygon points="1680.0,734.9 1691.0,753.9 1669.0,753.9" fill="#00ff00"/>
<polygon points="1687.0,735.9 1698.0,754.9 1676.0,754.9" fill="#00ff00"/>
<polygon points="1694.0,736.8 1705.0,755.8 1683.0,755.8" fill="#00ff00"/>
<polygon points="1701.0,737.8 1712.0,756.8 1690.0,756.8" fill="#00ff00"/>
<polygon points="1708.1,739.2 1719.1,758.2 1697.1,758.2" fill="#00ff00"/>
<polygon points="1715.2,740.6 1726.2,759.6 1704.2,759.6" fill="#00ff00"/>
<polygon points="1722.4,742.0 1733.4,761.0 1711.4,761.0" fill="#00ff00"/>
<polygon points="1729.5,743.4 1740.5,762.4 1718.5,762.4" fill="#00ff00"/>
<polygon points="1736.6,744.8 1747.6,763.8 1725.6,763.8" fill="#00ff00"/>
<polygon points="1744.4,746.4 1755.4,765.4 1733.4,765.4" fill="#00ff00"/>
<polygon points="1752.2,747.9 1763.2,766.9 1741.2,766.9" fill="#00ff00"/>
<polygon points="1760.0,749.5 1771.0,768.5 1749.0,768.5" fill="#00ff00"/>
<polygon points="1768.3,753.0 1779.3,772.0 1757.3,772.0" fill="#00ff00"/>
<polygon points="1734.0,762.5 1745.0,781.5 1723.0,781.5" fill="#00ff00"/>
<polygon points="1762.5,764.5 1773.5,783.5 1751.5,783.5" fill="#00ff00"/>
<polygon points="1551.0,742.5 1562.0,761.5 1540.0,761.5" fill="#00ff00"/>
<line x1="404.8" y1="38.0" x2="404.8" y2="1059.5" stroke="#000" stroke-width="4.4" stroke-dasharray="25 23.15"/>
<line x1="1086.0" y1="42.8" x2="1086.0" y2="1059.5" stroke="#000" stroke-width="4.4" stroke-dasharray="24.5 23.7"/>
<text x="195" y="1076.0" font-family="'Liberation Serif','Times New Roman',serif" font-size="58" fill="#0000ff" text-anchor="end">0</text>
<text x="195" y="872.7" font-family="'Liberation Serif','Times New Roman',serif" font-size="58" fill="#0000ff" text-anchor="end">4</text>
<text x="195" y="669.4" font-family="'Liberation Serif','Times New Roman',serif" font-size="58" fill="#0000ff" text-anchor="end">8</text>
<text x="195" y="466.1" font-family="'Liberation Serif','Times New Roman',serif" font-size="58" fill="#0000ff" text-anchor="end">12</text>
<text x="195" y="262.8" font-family="'Liberation Serif','Times New Roman',serif" font-size="58" fill="#0000ff" text-anchor="end">16</text>
<text x="195" y="59.5" font-family="'Liberation Serif','Times New Roman',serif" font-size="58" fill="#0000ff" text-anchor="end">20</text>
<text x="1896" y="1075.8" font-family="'Liberation Serif','Times New Roman',serif" font-size="58" fill="#ff0000">0.0</text>
<text x="1896" y="872.5" font-family="'Liberation Serif','Times New Roman',serif" font-size="58" fill="#ff0000">0.5</text>
<text x="1896" y="669.2" font-family="'Liberation Serif','Times New Roman',serif" font-size="58" fill="#ff0000">1.0</text>
<text x="1896" y="465.9" font-family="'Liberation Serif','Times New Roman',serif" font-size="58" fill="#ff0000">1.5</text>
<text x="1896" y="262.6" font-family="'Liberation Serif','Times New Roman',serif" font-size="58" fill="#ff0000">2.0</text>
<text x="1896" y="59.3" font-family="'Liberation Serif','Times New Roman',serif" font-size="58" fill="#ff0000">2.5</text>
<text x="2094" y="1077.0" font-family="'Liberation Serif','Times New Roman',serif" font-size="58" fill="#00ff00">0</text>
<text x="2094" y="822.9" font-family="'Liberation Serif','Times New Roman',serif" font-size="58" fill="#00ff00">10</text>
<text x="2094" y="568.8" font-family="'Liberation Serif','Times New Roman',serif" font-size="58" fill="#00ff00">20</text>
<text x="2094" y="314.6" font-family="'Liberation Serif','Times New Roman',serif" font-size="58" fill="#00ff00">30</text>
<text x="2094" y="60.5" font-family="'Liberation Serif','Times New Roman',serif" font-size="58" fill="#00ff00">40</text>
<text x="225.0" y="1135" font-family="'Liberation Serif','Times New Roman',serif" font-size="57" fill="#000" text-anchor="middle">0</text>
<text x="775.7" y="1135" font-family="'Liberation Serif','Times New Roman',serif" font-size="57" fill="#000" text-anchor="middle">600</text>
<text x="1326.3" y="1135" font-family="'Liberation Serif','Times New Roman',serif" font-size="57" fill="#000" text-anchor="middle">1200</text>
<text x="1877.0" y="1135" font-family="'Liberation Serif','Times New Roman',serif" font-size="57" fill="#000" text-anchor="middle">1800</text>
<text x="1050" y="1239.6" font-family="'Liberation Serif','Times New Roman',serif" font-size="70" fill="#000" text-anchor="middle" textLength="500" lengthAdjust="spacingAndGlyphs">Flow back time(h)</text>
<text transform="translate(79,872) rotate(-90) scale(0.968,1)" font-family="'Liberation Serif','Times New Roman',serif" font-size="70" fill="#0000ff">Water production(m<tspan font-size="46" dy="-26">3</tspan><tspan dy="26">/h)</tspan></text>
<text transform="translate(2048,892) rotate(-90) scale(0.968,1)" font-family="'Liberation Serif','Times New Roman',serif" font-size="70" fill="#ff0000">Gas production(10<tspan font-size="46" dy="-26">4</tspan><tspan dy="26">m</tspan><tspan font-size="46" dy="-26">3</tspan><tspan dy="26">/h)</tspan></text>
<text transform="translate(2224,894) rotate(-90) scale(0.968,1)" font-family="'Liberation Serif','Times New Roman',serif" font-size="70" fill="#00ff00">Casing pressure</text>
<text transform="translate(2224,466) rotate(-90)" font-family="'Noto Serif CJK SC',serif" font-size="58" fill="#00ff00">（</text>
<text transform="translate(2224,400) rotate(-90) scale(0.968,1)" font-family="'Liberation Serif','Times New Roman',serif" font-size="70" fill="#00ff00">MPa</text>
<text transform="translate(2224,266) rotate(-90)" font-family="'Noto Serif CJK SC',serif" font-size="58" fill="#00ff00">）</text>
<text x="238" y="259" font-family="'Liberation Serif','Times New Roman',serif" font-size="41" fill="#000">Area 1</text>
<text x="564" y="259" font-family="'Liberation Serif','Times New Roman',serif" font-size="41" fill="#000">Area 2</text>
<text x="1216" y="253" font-family="'Liberation Serif','Times New Roman',serif" font-size="41" fill="#000">Area 3</text>
<rect x="1348.5" y="67.5" width="487" height="189" fill="#fff" stroke="#222" stroke-width="1.6"/>
<line x1="1356.5" y1="102" x2="1399.5" y2="102" stroke="#0000ff" stroke-width="4.6" stroke-linecap="round"/>
<line x1="1423.5" y1="102" x2="1466.5" y2="102" stroke="#0000ff" stroke-width="4.6" stroke-linecap="round"/>
<rect x="1403" y="93.8" width="15.8" height="15.4" fill="#0000ff"/>
<text x="1480" y="118.6" font-family="'Liberation Serif','Times New Roman',serif" font-size="50" fill="#000">Water production</text>
<line x1="1356.5" y1="162" x2="1399.5" y2="162" stroke="#ff0000" stroke-width="4.6" stroke-linecap="round"/>
<line x1="1423.5" y1="162" x2="1466.5" y2="162" stroke="#ff0000" stroke-width="4.6" stroke-linecap="round"/>
<circle cx="1411.3" cy="162.3" r="8.4" fill="#ff0000"/>
<text x="1467" y="178.2" font-family="'Liberation Serif','Times New Roman',serif" font-size="50" fill="#000">Gas production</text>
<line x1="1356" y1="222.5" x2="1400.5" y2="222.5" stroke="#00ff00" stroke-width="1.4"/>
<line x1="1423" y1="222.5" x2="1467.5" y2="222.5" stroke="#00ff00" stroke-width="1.4"/>
<polygon points="1411.2,211 1421.8,229.2 1400.5,229.2" fill="#00ff00"/>
<text x="1480" y="240" font-family="'Liberation Serif','Times New Roman',serif" font-size="50" fill="#000">Casing pressure</text>
</svg></body></html>
